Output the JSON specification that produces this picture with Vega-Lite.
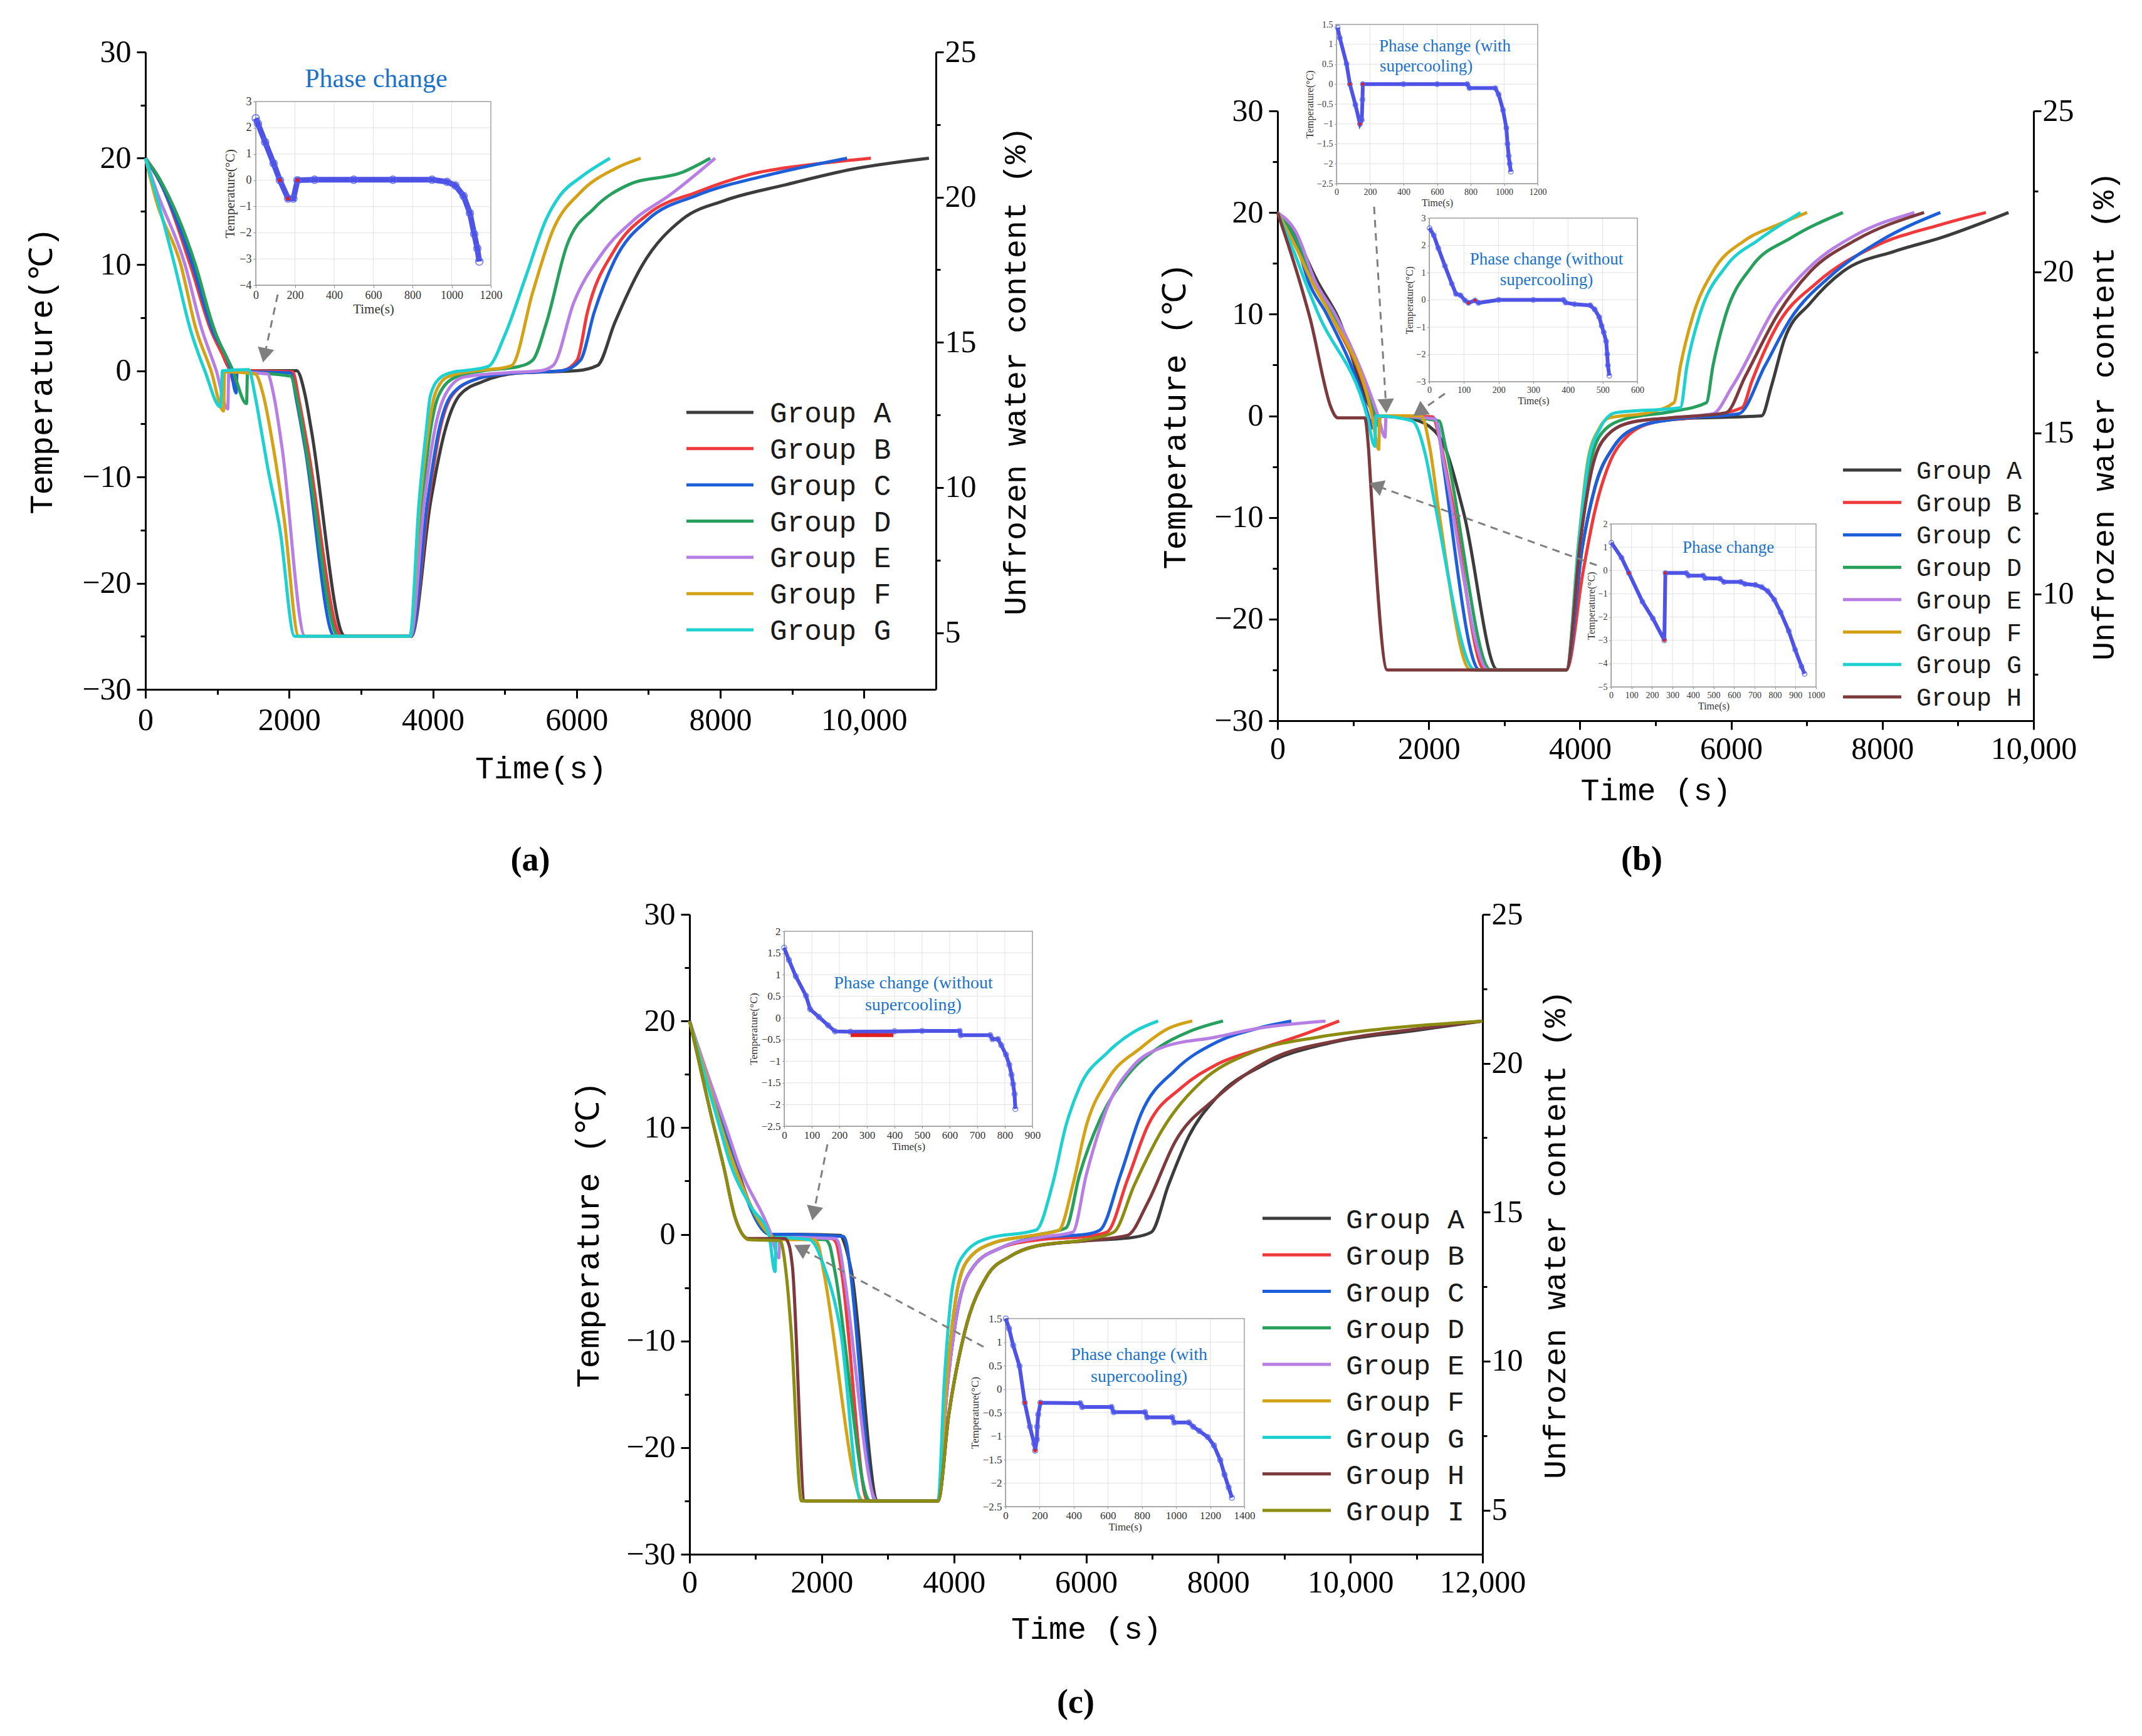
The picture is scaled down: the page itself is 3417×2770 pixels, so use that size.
{
"$schema":"https://vega.github.io/schema/vega-lite/v6.json",
"width":3417,"height":2770,"autosize":{"type":"none"},"padding":0,"background":"#ffffff",
"config":{"view":{"stroke":null},"axis":{"labelFlush":false,"labelOverlap":false,"grid":false,"titleFontWeight":"normal"}},
"datasets":{
"main":[
{"p":"a","g":"Group A","t":0,"v":20},{"p":"a","g":"Group A","t":200,"v":18},{"p":"a","g":"Group A","t":680,"v":10},{"p":"a","g":"Group A","t":950,"v":4},{"p":"a","g":"Group A","t":1218,"v":0},{"p":"a","g":"Group A","t":2105,"v":0},{"p":"a","g":"Group A","t":2222,"v":-2.3},{"p":"a","g":"Group A","t":2309,"v":-5.6},{"p":"a","g":"Group A","t":2774,"v":-25},{"p":"a","g":"Group A","t":3700,"v":-25},{"p":"a","g":"Group A","t":3967,"v":-12.4},{"p":"a","g":"Group A","t":4170,"v":-5.6},{"p":"a","g":"Group A","t":4374,"v":-2.3},{"p":"a","g":"Group A","t":4700,"v":-1},{"p":"a","g":"Group A","t":5200,"v":-0.2},{"p":"a","g":"Group A","t":6000,"v":0},{"p":"a","g":"Group A","t":6293,"v":0.5},{"p":"a","g":"Group A","t":6530,"v":4.5},{"p":"a","g":"Group A","t":6911,"v":9.9},{"p":"a","g":"Group A","t":7480,"v":14.3},{"p":"a","g":"Group A","t":8050,"v":16},{"p":"a","g":"Group A","t":8907,"v":17.5},{"p":"a","g":"Group A","t":9858,"v":19},{"p":"a","g":"Group A","t":10903,"v":20},
{"p":"a","g":"Group B","t":0,"v":20},{"p":"a","g":"Group B","t":200,"v":17.8},{"p":"a","g":"Group B","t":622,"v":10},{"p":"a","g":"Group B","t":900,"v":4},{"p":"a","g":"Group B","t":1175,"v":0},{"p":"a","g":"Group B","t":1239,"v":-1.2},{"p":"a","g":"Group B","t":1250,"v":0},{"p":"a","g":"Group B","t":2047,"v":-0.1},{"p":"a","g":"Group B","t":2140,"v":-2.9},{"p":"a","g":"Group B","t":2260,"v":-7.3},{"p":"a","g":"Group B","t":2731,"v":-25},{"p":"a","g":"Group B","t":3700,"v":-25},{"p":"a","g":"Group B","t":3937,"v":-12.4},{"p":"a","g":"Group B","t":4097,"v":-5.6},{"p":"a","g":"Group B","t":4270,"v":-2.3},{"p":"a","g":"Group B","t":4600,"v":-0.8},{"p":"a","g":"Group B","t":5000,"v":-0.3},{"p":"a","g":"Group B","t":5800,"v":0},{"p":"a","g":"Group B","t":6008,"v":1},{"p":"a","g":"Group B","t":6150,"v":5.5},{"p":"a","g":"Group B","t":6530,"v":11.4},{"p":"a","g":"Group B","t":7005,"v":14.8},{"p":"a","g":"Group B","t":7670,"v":16.8},{"p":"a","g":"Group B","t":8430,"v":18.5},{"p":"a","g":"Group B","t":9380,"v":19.5},{"p":"a","g":"Group B","t":10095,"v":20},
{"p":"a","g":"Group C","t":0,"v":20},{"p":"a","g":"Group C","t":200,"v":17.8},{"p":"a","g":"Group C","t":651,"v":10},{"p":"a","g":"Group C","t":920,"v":4},{"p":"a","g":"Group C","t":1189,"v":0},{"p":"a","g":"Group C","t":1262,"v":-2.1},{"p":"a","g":"Group C","t":1275,"v":-0.1},{"p":"a","g":"Group C","t":2018,"v":-0.2},{"p":"a","g":"Group C","t":2105,"v":-2.9},{"p":"a","g":"Group C","t":2222,"v":-7.3},{"p":"a","g":"Group C","t":2629,"v":-25},{"p":"a","g":"Group C","t":3700,"v":-25},{"p":"a","g":"Group C","t":3923,"v":-12.4},{"p":"a","g":"Group C","t":4083,"v":-5.6},{"p":"a","g":"Group C","t":4257,"v":-2.3},{"p":"a","g":"Group C","t":4600,"v":-0.8},{"p":"a","g":"Group C","t":5000,"v":-0.3},{"p":"a","g":"Group C","t":5800,"v":0},{"p":"a","g":"Group C","t":6055,"v":1},{"p":"a","g":"Group C","t":6245,"v":5.5},{"p":"a","g":"Group C","t":6530,"v":10.4},{"p":"a","g":"Group C","t":7005,"v":14.3},{"p":"a","g":"Group C","t":7670,"v":16.5},{"p":"a","g":"Group C","t":8717,"v":18.5},{"p":"a","g":"Group C","t":9763,"v":20},
{"p":"a","g":"Group D","t":0,"v":20},{"p":"a","g":"Group D","t":200,"v":18},{"p":"a","g":"Group D","t":695,"v":10},{"p":"a","g":"Group D","t":950,"v":4},{"p":"a","g":"Group D","t":1218,"v":0},{"p":"a","g":"Group D","t":1407,"v":-3.1},{"p":"a","g":"Group D","t":1420,"v":-0.2},{"p":"a","g":"Group D","t":2018,"v":-0.5},{"p":"a","g":"Group D","t":2120,"v":-3},{"p":"a","g":"Group D","t":2250,"v":-8},{"p":"a","g":"Group D","t":2687,"v":-25},{"p":"a","g":"Group D","t":3690,"v":-25},{"p":"a","g":"Group D","t":3850,"v":-12.4},{"p":"a","g":"Group D","t":3967,"v":-5.6},{"p":"a","g":"Group D","t":4083,"v":-2.3},{"p":"a","g":"Group D","t":4316,"v":-0.6},{"p":"a","g":"Group D","t":4700,"v":0},{"p":"a","g":"Group D","t":5200,"v":0.4},{"p":"a","g":"Group D","t":5390,"v":1},{"p":"a","g":"Group D","t":5580,"v":4.5},{"p":"a","g":"Group D","t":5865,"v":11.8},{"p":"a","g":"Group D","t":6245,"v":15.3},{"p":"a","g":"Group D","t":6720,"v":17.5},{"p":"a","g":"Group D","t":7480,"v":18.7},{"p":"a","g":"Group D","t":7860,"v":20},
{"p":"a","g":"Group E","t":0,"v":20},{"p":"a","g":"Group E","t":150,"v":17},{"p":"a","g":"Group E","t":550,"v":10},{"p":"a","g":"Group E","t":780,"v":4},{"p":"a","g":"Group E","t":986,"v":0},{"p":"a","g":"Group E","t":1146,"v":-3.6},{"p":"a","g":"Group E","t":1160,"v":-0.1},{"p":"a","g":"Group E","t":1698,"v":-0.3},{"p":"a","g":"Group E","t":1785,"v":-2.3},{"p":"a","g":"Group E","t":1902,"v":-7.3},{"p":"a","g":"Group E","t":2222,"v":-25},{"p":"a","g":"Group E","t":3690,"v":-25},{"p":"a","g":"Group E","t":3879,"v":-12.4},{"p":"a","g":"Group E","t":4025,"v":-5.6},{"p":"a","g":"Group E","t":4170,"v":-2.3},{"p":"a","g":"Group E","t":4432,"v":-0.6},{"p":"a","g":"Group E","t":5000,"v":-0.2},{"p":"a","g":"Group E","t":5500,"v":0},{"p":"a","g":"Group E","t":5675,"v":0.5},{"p":"a","g":"Group E","t":5960,"v":6.4},{"p":"a","g":"Group E","t":6340,"v":10.9},{"p":"a","g":"Group E","t":6815,"v":14.3},{"p":"a","g":"Group E","t":7290,"v":16.5},{"p":"a","g":"Group E","t":7928,"v":20},
{"p":"a","g":"Group F","t":0,"v":20},{"p":"a","g":"Group F","t":150,"v":16},{"p":"a","g":"Group F","t":491,"v":10},{"p":"a","g":"Group F","t":700,"v":4},{"p":"a","g":"Group F","t":913,"v":0},{"p":"a","g":"Group F","t":1088,"v":-3.8},{"p":"a","g":"Group F","t":1100,"v":-0.1},{"p":"a","g":"Group F","t":1524,"v":-0.3},{"p":"a","g":"Group F","t":1640,"v":-2.3},{"p":"a","g":"Group F","t":1756,"v":-6.3},{"p":"a","g":"Group F","t":1931,"v":-14},{"p":"a","g":"Group F","t":2134,"v":-25},{"p":"a","g":"Group F","t":3680,"v":-25},{"p":"a","g":"Group F","t":3821,"v":-12.4},{"p":"a","g":"Group F","t":3937,"v":-5.6},{"p":"a","g":"Group F","t":4025,"v":-2.3},{"p":"a","g":"Group F","t":4199,"v":-0.6},{"p":"a","g":"Group F","t":4600,"v":0},{"p":"a","g":"Group F","t":5000,"v":0.3},{"p":"a","g":"Group F","t":5100,"v":0.5},{"p":"a","g":"Group F","t":5390,"v":7.4},{"p":"a","g":"Group F","t":5675,"v":13.3},{"p":"a","g":"Group F","t":6055,"v":16.8},{"p":"a","g":"Group F","t":6530,"v":19},{"p":"a","g":"Group F","t":6892,"v":20},
{"p":"a","g":"Group G","t":0,"v":20},{"p":"a","g":"Group G","t":150,"v":16.5},{"p":"a","g":"Group G","t":404,"v":10},{"p":"a","g":"Group G","t":620,"v":4},{"p":"a","g":"Group G","t":826,"v":0},{"p":"a","g":"Group G","t":1044,"v":-3.4},{"p":"a","g":"Group G","t":1073,"v":0},{"p":"a","g":"Group G","t":1437,"v":0.1},{"p":"a","g":"Group G","t":1524,"v":-2.3},{"p":"a","g":"Group G","t":1611,"v":-5.6},{"p":"a","g":"Group G","t":1698,"v":-9},{"p":"a","g":"Group G","t":1873,"v":-15},{"p":"a","g":"Group G","t":2076,"v":-25},{"p":"a","g":"Group G","t":3680,"v":-25},{"p":"a","g":"Group G","t":3807,"v":-12.4},{"p":"a","g":"Group G","t":3908,"v":-5.6},{"p":"a","g":"Group G","t":3967,"v":-2.3},{"p":"a","g":"Group G","t":4112,"v":-0.6},{"p":"a","g":"Group G","t":4300,"v":-0.1},{"p":"a","g":"Group G","t":4432,"v":0},{"p":"a","g":"Group G","t":4770,"v":0.4},{"p":"a","g":"Group G","t":5010,"v":3.5},{"p":"a","g":"Group G","t":5295,"v":8.9},{"p":"a","g":"Group G","t":5580,"v":14.3},{"p":"a","g":"Group G","t":5770,"v":16.5},{"p":"a","g":"Group G","t":6055,"v":18.2},{"p":"a","g":"Group G","t":6464,"v":20},
{"p":"b","g":"Group A","t":0,"v":20},{"p":"b","g":"Group A","t":250,"v":17.5},{"p":"b","g":"Group A","t":530,"v":13.2},{"p":"b","g":"Group A","t":780,"v":10},{"p":"b","g":"Group A","t":1333,"v":0},{"p":"b","g":"Group A","t":1700,"v":-0.2},{"p":"b","g":"Group A","t":1869,"v":-0.5},{"p":"b","g":"Group A","t":2000,"v":-1},{"p":"b","g":"Group A","t":2196,"v":-2.8},{"p":"b","g":"Group A","t":2464,"v":-9.6},{"p":"b","g":"Group A","t":2911,"v":-25},{"p":"b","g":"Group A","t":3820,"v":-25},{"p":"b","g":"Group A","t":4030,"v":-13},{"p":"b","g":"Group A","t":4200,"v":-7},{"p":"b","g":"Group A","t":4450,"v":-3},{"p":"b","g":"Group A","t":4800,"v":-1},{"p":"b","g":"Group A","t":5300,"v":-0.3},{"p":"b","g":"Group A","t":6403,"v":0},{"p":"b","g":"Group A","t":6532,"v":2.9},{"p":"b","g":"Group A","t":6704,"v":7.5},{"p":"b","g":"Group A","t":7048,"v":11.1},{"p":"b","g":"Group A","t":7478,"v":14.2},{"p":"b","g":"Group A","t":8165,"v":16.2},{"p":"b","g":"Group A","t":8767,"v":17.5},{"p":"b","g":"Group A","t":9669,"v":20},
{"p":"b","g":"Group B","t":0,"v":20},{"p":"b","g":"Group B","t":250,"v":17},{"p":"b","g":"Group B","t":470,"v":13.2},{"p":"b","g":"Group B","t":700,"v":10},{"p":"b","g":"Group B","t":1260,"v":0},{"p":"b","g":"Group B","t":1280,"v":-0.6},{"p":"b","g":"Group B","t":1300,"v":0},{"p":"b","g":"Group B","t":2050,"v":-0.1},{"p":"b","g":"Group B","t":2150,"v":-2.5},{"p":"b","g":"Group B","t":2300,"v":-8},{"p":"b","g":"Group B","t":2740,"v":-25},{"p":"b","g":"Group B","t":3820,"v":-25},{"p":"b","g":"Group B","t":4042,"v":-15.3},{"p":"b","g":"Group B","t":4190,"v":-9.6},{"p":"b","g":"Group B","t":4399,"v":-4.5},{"p":"b","g":"Group B","t":4602,"v":-2.2},{"p":"b","g":"Group B","t":5000,"v":-0.6},{"p":"b","g":"Group B","t":5600,"v":-0.1},{"p":"b","g":"Group B","t":6145,"v":0.8},{"p":"b","g":"Group B","t":6274,"v":3.4},{"p":"b","g":"Group B","t":6618,"v":9},{"p":"b","g":"Group B","t":7134,"v":13.1},{"p":"b","g":"Group B","t":7907,"v":16.7},{"p":"b","g":"Group B","t":8767,"v":18.8},{"p":"b","g":"Group B","t":9369,"v":20},
{"p":"b","g":"Group C","t":0,"v":20},{"p":"b","g":"Group C","t":250,"v":17},{"p":"b","g":"Group C","t":410,"v":13.2},{"p":"b","g":"Group C","t":650,"v":10},{"p":"b","g":"Group C","t":1200,"v":0},{"p":"b","g":"Group C","t":1244,"v":-1.2},{"p":"b","g":"Group C","t":1260,"v":0},{"p":"b","g":"Group C","t":2080,"v":-0.3},{"p":"b","g":"Group C","t":2122,"v":-1.1},{"p":"b","g":"Group C","t":2196,"v":-5},{"p":"b","g":"Group C","t":2672,"v":-25},{"p":"b","g":"Group C","t":3820,"v":-25},{"p":"b","g":"Group C","t":4030,"v":-13},{"p":"b","g":"Group C","t":4200,"v":-7},{"p":"b","g":"Group C","t":4450,"v":-3},{"p":"b","g":"Group C","t":4800,"v":-1},{"p":"b","g":"Group C","t":5300,"v":-0.3},{"p":"b","g":"Group C","t":6100,"v":0.2},{"p":"b","g":"Group C","t":6446,"v":4.9},{"p":"b","g":"Group C","t":6790,"v":9.6},{"p":"b","g":"Group C","t":7306,"v":13.7},{"p":"b","g":"Group C","t":7993,"v":17.3},{"p":"b","g":"Group C","t":8767,"v":20},
{"p":"b","g":"Group D","t":0,"v":20},{"p":"b","g":"Group D","t":250,"v":17.3},{"p":"b","g":"Group D","t":480,"v":13.2},{"p":"b","g":"Group D","t":720,"v":10},{"p":"b","g":"Group D","t":1300,"v":0},{"p":"b","g":"Group D","t":1340,"v":-1},{"p":"b","g":"Group D","t":1360,"v":0},{"p":"b","g":"Group D","t":2137,"v":-0.5},{"p":"b","g":"Group D","t":2220,"v":-3},{"p":"b","g":"Group D","t":2821,"v":-25},{"p":"b","g":"Group D","t":3820,"v":-25},{"p":"b","g":"Group D","t":4000,"v":-12},{"p":"b","g":"Group D","t":4130,"v":-5},{"p":"b","g":"Group D","t":4300,"v":-1.6},{"p":"b","g":"Group D","t":4600,"v":-0.3},{"p":"b","g":"Group D","t":5200,"v":0.4},{"p":"b","g":"Group D","t":5673,"v":1.3},{"p":"b","g":"Group D","t":5759,"v":4.9},{"p":"b","g":"Group D","t":5931,"v":10},{"p":"b","g":"Group D","t":6274,"v":14.7},{"p":"b","g":"Group D","t":6790,"v":17.5},{"p":"b","g":"Group D","t":7478,"v":20},
{"p":"b","g":"Group E","t":0,"v":20},{"p":"b","g":"Group E","t":250,"v":18},{"p":"b","g":"Group E","t":500,"v":13.2},{"p":"b","g":"Group E","t":760,"v":10},{"p":"b","g":"Group E","t":1330,"v":0},{"p":"b","g":"Group E","t":1422,"v":-2.1},{"p":"b","g":"Group E","t":1435,"v":0},{"p":"b","g":"Group E","t":2077,"v":-0.3},{"p":"b","g":"Group E","t":2196,"v":-4.5},{"p":"b","g":"Group E","t":2791,"v":-25},{"p":"b","g":"Group E","t":3820,"v":-25},{"p":"b","g":"Group E","t":4010,"v":-12},{"p":"b","g":"Group E","t":4150,"v":-5.5},{"p":"b","g":"Group E","t":4350,"v":-2},{"p":"b","g":"Group E","t":4700,"v":-0.6},{"p":"b","g":"Group E","t":5200,"v":-0.2},{"p":"b","g":"Group E","t":5759,"v":0.2},{"p":"b","g":"Group E","t":6016,"v":2.9},{"p":"b","g":"Group E","t":6618,"v":11.1},{"p":"b","g":"Group E","t":7048,"v":14.7},{"p":"b","g":"Group E","t":7650,"v":17.8},{"p":"b","g":"Group E","t":8423,"v":20},
{"p":"b","g":"Group F","t":0,"v":20},{"p":"b","g":"Group F","t":250,"v":16.5},{"p":"b","g":"Group F","t":455,"v":13.2},{"p":"b","g":"Group F","t":700,"v":10},{"p":"b","g":"Group F","t":1250,"v":0},{"p":"b","g":"Group F","t":1339,"v":-3.3},{"p":"b","g":"Group F","t":1350,"v":0},{"p":"b","g":"Group F","t":1898,"v":0},{"p":"b","g":"Group F","t":2018,"v":-3.3},{"p":"b","g":"Group F","t":2137,"v":-9.6},{"p":"b","g":"Group F","t":2553,"v":-25},{"p":"b","g":"Group F","t":3820,"v":-25},{"p":"b","g":"Group F","t":3982,"v":-12.4},{"p":"b","g":"Group F","t":4102,"v":-4.5},{"p":"b","g":"Group F","t":4250,"v":-1.3},{"p":"b","g":"Group F","t":4383,"v":-0.2},{"p":"b","g":"Group F","t":4899,"v":0.3},{"p":"b","g":"Group F","t":5243,"v":1.3},{"p":"b","g":"Group F","t":5329,"v":4.9},{"p":"b","g":"Group F","t":5501,"v":10},{"p":"b","g":"Group F","t":5759,"v":14.2},{"p":"b","g":"Group F","t":6188,"v":17.3},{"p":"b","g":"Group F","t":6618,"v":18.8},{"p":"b","g":"Group F","t":7005,"v":20},
{"p":"b","g":"Group G","t":0,"v":20},{"p":"b","g":"Group G","t":250,"v":15.5},{"p":"b","g":"Group G","t":365,"v":13.2},{"p":"b","g":"Group G","t":540,"v":10},{"p":"b","g":"Group G","t":1184,"v":0},{"p":"b","g":"Group G","t":1288,"v":-3},{"p":"b","g":"Group G","t":1300,"v":0},{"p":"b","g":"Group G","t":1780,"v":-0.5},{"p":"b","g":"Group G","t":1958,"v":-3.9},{"p":"b","g":"Group G","t":2077,"v":-8.5},{"p":"b","g":"Group G","t":2613,"v":-25},{"p":"b","g":"Group G","t":3820,"v":-25},{"p":"b","g":"Group G","t":3990,"v":-12},{"p":"b","g":"Group G","t":4110,"v":-4.5},{"p":"b","g":"Group G","t":4260,"v":-1.3},{"p":"b","g":"Group G","t":4469,"v":0.3},{"p":"b","g":"Group G","t":5329,"v":0.8},{"p":"b","g":"Group G","t":5415,"v":4.9},{"p":"b","g":"Group G","t":5587,"v":10},{"p":"b","g":"Group G","t":5931,"v":14.7},{"p":"b","g":"Group G","t":6360,"v":17.3},{"p":"b","g":"Group G","t":6919,"v":20},
{"p":"b","g":"Group H","t":0,"v":20},{"p":"b","g":"Group H","t":321,"v":12.5},{"p":"b","g":"Group H","t":430,"v":9.6},{"p":"b","g":"Group H","t":708,"v":0.8},{"p":"b","g":"Group H","t":760,"v":0},{"p":"b","g":"Group H","t":800,"v":-0.2},{"p":"b","g":"Group H","t":1154,"v":-0.2},{"p":"b","g":"Group H","t":1199,"v":-2.8},{"p":"b","g":"Group H","t":1244,"v":-8.2},{"p":"b","g":"Group H","t":1452,"v":-25},{"p":"b","g":"Group H","t":3820,"v":-25},{"p":"b","g":"Group H","t":4010,"v":-12},{"p":"b","g":"Group H","t":4150,"v":-5.5},{"p":"b","g":"Group H","t":4350,"v":-2},{"p":"b","g":"Group H","t":4700,"v":-0.6},{"p":"b","g":"Group H","t":5200,"v":-0.2},{"p":"b","g":"Group H","t":5931,"v":0.3},{"p":"b","g":"Group H","t":6188,"v":3.9},{"p":"b","g":"Group H","t":6618,"v":10},{"p":"b","g":"Group H","t":7048,"v":14.2},{"p":"b","g":"Group H","t":7650,"v":17.3},{"p":"b","g":"Group H","t":8552,"v":20},
{"p":"c","g":"Group A","t":0,"v":20},{"p":"c","g":"Group A","t":245,"v":15.2},{"p":"c","g":"Group A","t":520,"v":10},{"p":"c","g":"Group A","t":1220,"v":0},{"p":"c","g":"Group A","t":1500,"v":0},{"p":"c","g":"Group A","t":2289,"v":-0.1},{"p":"c","g":"Group A","t":2330,"v":-0.6},{"p":"c","g":"Group A","t":2450,"v":-3.5},{"p":"c","g":"Group A","t":2850,"v":-25},{"p":"c","g":"Group A","t":3760,"v":-25},{"p":"c","g":"Group A","t":3923,"v":-16.9},{"p":"c","g":"Group A","t":4162,"v":-9.2},{"p":"c","g":"Group A","t":4502,"v":-3.9},{"p":"c","g":"Group A","t":4842,"v":-2.1},{"p":"c","g":"Group A","t":5244,"v":-1.1},{"p":"c","g":"Group A","t":6000,"v":-0.6},{"p":"c","g":"Group A","t":6700,"v":-0.3},{"p":"c","g":"Group A","t":6988,"v":0.2},{"p":"c","g":"Group A","t":7246,"v":4.6},{"p":"c","g":"Group A","t":7556,"v":9.2},{"p":"c","g":"Group A","t":7970,"v":12.8},{"p":"c","g":"Group A","t":8693,"v":15.9},{"p":"c","g":"Group A","t":9727,"v":18},{"p":"c","g":"Group A","t":10968,"v":19.1},{"p":"c","g":"Group A","t":12000,"v":20},
{"p":"c","g":"Group B","t":0,"v":20},{"p":"c","g":"Group B","t":245,"v":15.2},{"p":"c","g":"Group B","t":500,"v":10},{"p":"c","g":"Group B","t":1210,"v":0},{"p":"c","g":"Group B","t":1350,"v":-0.3},{"p":"c","g":"Group B","t":2150,"v":-0.4},{"p":"c","g":"Group B","t":2220,"v":-0.8},{"p":"c","g":"Group B","t":2300,"v":-3.5},{"p":"c","g":"Group B","t":2697,"v":-25},{"p":"c","g":"Group B","t":3760,"v":-25},{"p":"c","g":"Group B","t":3890,"v":-15},{"p":"c","g":"Group B","t":4060,"v":-7},{"p":"c","g":"Group B","t":4300,"v":-3},{"p":"c","g":"Group B","t":4700,"v":-1.3},{"p":"c","g":"Group B","t":5300,"v":-0.5},{"p":"c","g":"Group B","t":6000,"v":-0.2},{"p":"c","g":"Group B","t":6316,"v":0.2},{"p":"c","g":"Group B","t":6626,"v":5.1},{"p":"c","g":"Group B","t":6936,"v":10.2},{"p":"c","g":"Group B","t":7453,"v":13.8},{"p":"c","g":"Group B","t":7970,"v":15.9},{"p":"c","g":"Group B","t":8693,"v":17.5},{"p":"c","g":"Group B","t":9314,"v":18.8},{"p":"c","g":"Group B","t":9831,"v":20},
{"p":"c","g":"Group C","t":0,"v":20},{"p":"c","g":"Group C","t":245,"v":15.2},{"p":"c","g":"Group C","t":510,"v":10},{"p":"c","g":"Group C","t":1215,"v":0},{"p":"c","g":"Group C","t":1400,"v":0},{"p":"c","g":"Group C","t":2330,"v":-0.2},{"p":"c","g":"Group C","t":2380,"v":-1},{"p":"c","g":"Group C","t":2425,"v":-3},{"p":"c","g":"Group C","t":2816,"v":-25},{"p":"c","g":"Group C","t":3760,"v":-25},{"p":"c","g":"Group C","t":3890,"v":-15},{"p":"c","g":"Group C","t":4060,"v":-7},{"p":"c","g":"Group C","t":4300,"v":-3},{"p":"c","g":"Group C","t":4700,"v":-1.3},{"p":"c","g":"Group C","t":5300,"v":-0.3},{"p":"c","g":"Group C","t":6000,"v":0},{"p":"c","g":"Group C","t":6213,"v":0.4},{"p":"c","g":"Group C","t":6523,"v":5.6},{"p":"c","g":"Group C","t":6833,"v":11.3},{"p":"c","g":"Group C","t":7350,"v":15.4},{"p":"c","g":"Group C","t":7970,"v":18},{"p":"c","g":"Group C","t":8590,"v":19.3},{"p":"c","g":"Group C","t":9107,"v":20},
{"p":"c","g":"Group D","t":0,"v":20},{"p":"c","g":"Group D","t":245,"v":15.2},{"p":"c","g":"Group D","t":490,"v":10},{"p":"c","g":"Group D","t":1210,"v":0},{"p":"c","g":"Group D","t":1350,"v":-0.4},{"p":"c","g":"Group D","t":2050,"v":-0.5},{"p":"c","g":"Group D","t":2118,"v":-1},{"p":"c","g":"Group D","t":2200,"v":-3.5},{"p":"c","g":"Group D","t":2731,"v":-25},{"p":"c","g":"Group D","t":3760,"v":-25},{"p":"c","g":"Group D","t":3880,"v":-14.5},{"p":"c","g":"Group D","t":4030,"v":-6},{"p":"c","g":"Group D","t":4200,"v":-2.5},{"p":"c","g":"Group D","t":4600,"v":-0.8},{"p":"c","g":"Group D","t":5300,"v":0},{"p":"c","g":"Group D","t":5696,"v":0.6},{"p":"c","g":"Group D","t":5902,"v":5.6},{"p":"c","g":"Group D","t":6213,"v":10.8},{"p":"c","g":"Group D","t":6626,"v":14.9},{"p":"c","g":"Group D","t":7143,"v":17.7},{"p":"c","g":"Group D","t":7556,"v":19},{"p":"c","g":"Group D","t":8073,"v":20},
{"p":"c","g":"Group E","t":0,"v":20},{"p":"c","g":"Group E","t":245,"v":15.5},{"p":"c","g":"Group E","t":555,"v":10},{"p":"c","g":"Group E","t":756,"v":6.3},{"p":"c","g":"Group E","t":1233,"v":0},{"p":"c","g":"Group E","t":1352,"v":-2.2},{"p":"c","g":"Group E","t":1365,"v":-0.3},{"p":"c","g":"Group E","t":2200,"v":-0.4},{"p":"c","g":"Group E","t":2254,"v":-0.8},{"p":"c","g":"Group E","t":2330,"v":-3.5},{"p":"c","g":"Group E","t":2833,"v":-25},{"p":"c","g":"Group E","t":3760,"v":-25},{"p":"c","g":"Group E","t":3890,"v":-15},{"p":"c","g":"Group E","t":4060,"v":-7},{"p":"c","g":"Group E","t":4300,"v":-3},{"p":"c","g":"Group E","t":4700,"v":-1.3},{"p":"c","g":"Group E","t":5300,"v":-0.3},{"p":"c","g":"Group E","t":5799,"v":0.2},{"p":"c","g":"Group E","t":6005,"v":5.6},{"p":"c","g":"Group E","t":6316,"v":11.8},{"p":"c","g":"Group E","t":6729,"v":15.9},{"p":"c","g":"Group E","t":7143,"v":17.5},{"p":"c","g":"Group E","t":7970,"v":18.5},{"p":"c","g":"Group E","t":8590,"v":19.3},{"p":"c","g":"Group E","t":9624,"v":20},
{"p":"c","g":"Group F","t":0,"v":20},{"p":"c","g":"Group F","t":245,"v":15},{"p":"c","g":"Group F","t":480,"v":10},{"p":"c","g":"Group F","t":1205,"v":0},{"p":"c","g":"Group F","t":1300,"v":-0.5},{"p":"c","g":"Group F","t":1880,"v":-0.5},{"p":"c","g":"Group F","t":1948,"v":-1},{"p":"c","g":"Group F","t":2030,"v":-3.5},{"p":"c","g":"Group F","t":2629,"v":-25},{"p":"c","g":"Group F","t":3760,"v":-25},{"p":"c","g":"Group F","t":3880,"v":-14.5},{"p":"c","g":"Group F","t":4030,"v":-6},{"p":"c","g":"Group F","t":4200,"v":-2.5},{"p":"c","g":"Group F","t":4600,"v":-0.8},{"p":"c","g":"Group F","t":5300,"v":0},{"p":"c","g":"Group F","t":5592,"v":0.4},{"p":"c","g":"Group F","t":5799,"v":4.6},{"p":"c","g":"Group F","t":6005,"v":10.2},{"p":"c","g":"Group F","t":6316,"v":14.4},{"p":"c","g":"Group F","t":6833,"v":17.5},{"p":"c","g":"Group F","t":7246,"v":19.3},{"p":"c","g":"Group F","t":7608,"v":20},
{"p":"c","g":"Group G","t":0,"v":20},{"p":"c","g":"Group G","t":143,"v":16.8},{"p":"c","g":"Group G","t":458,"v":10},{"p":"c","g":"Group G","t":586,"v":7.2},{"p":"c","g":"Group G","t":927,"v":2.6},{"p":"c","g":"Group G","t":1199,"v":0},{"p":"c","g":"Group G","t":1294,"v":-3.5},{"p":"c","g":"Group G","t":1310,"v":-0.3},{"p":"c","g":"Group G","t":1812,"v":-0.5},{"p":"c","g":"Group G","t":1900,"v":-1},{"p":"c","g":"Group G","t":2016,"v":-2.7},{"p":"c","g":"Group G","t":2289,"v":-9.2},{"p":"c","g":"Group G","t":2595,"v":-25},{"p":"c","g":"Group G","t":3760,"v":-25},{"p":"c","g":"Group G","t":3855,"v":-13.8},{"p":"c","g":"Group G","t":3991,"v":-4.5},{"p":"c","g":"Group G","t":4162,"v":-1.8},{"p":"c","g":"Group G","t":4502,"v":-0.4},{"p":"c","g":"Group G","t":5244,"v":0.4},{"p":"c","g":"Group G","t":5489,"v":4.6},{"p":"c","g":"Group G","t":5696,"v":10.2},{"p":"c","g":"Group G","t":5902,"v":13.8},{"p":"c","g":"Group G","t":6316,"v":17},{"p":"c","g":"Group G","t":6729,"v":19},{"p":"c","g":"Group G","t":7091,"v":20},
{"p":"c","g":"Group H","t":0,"v":20},{"p":"c","g":"Group H","t":109,"v":17.1},{"p":"c","g":"Group H","t":314,"v":11.5},{"p":"c","g":"Group H","t":518,"v":6.3},{"p":"c","g":"Group H","t":688,"v":1.6},{"p":"c","g":"Group H","t":790,"v":0.1},{"p":"c","g":"Group H","t":892,"v":-0.4},{"p":"c","g":"Group H","t":1440,"v":-0.4},{"p":"c","g":"Group H","t":1505,"v":-1},{"p":"c","g":"Group H","t":1556,"v":-3},{"p":"c","g":"Group H","t":1744,"v":-25},{"p":"c","g":"Group H","t":3760,"v":-25},{"p":"c","g":"Group H","t":3923,"v":-16.9},{"p":"c","g":"Group H","t":4162,"v":-9.2},{"p":"c","g":"Group H","t":4502,"v":-3.9},{"p":"c","g":"Group H","t":4842,"v":-2.1},{"p":"c","g":"Group H","t":5244,"v":-1.1},{"p":"c","g":"Group H","t":6000,"v":-0.6},{"p":"c","g":"Group H","t":6626,"v":-0.1},{"p":"c","g":"Group H","t":6936,"v":3},{"p":"c","g":"Group H","t":7350,"v":8.7},{"p":"c","g":"Group H","t":7970,"v":12.8},{"p":"c","g":"Group H","t":8797,"v":16.4},{"p":"c","g":"Group H","t":9831,"v":18.2},{"p":"c","g":"Group H","t":11071,"v":19.3},{"p":"c","g":"Group H","t":12000,"v":20},
{"p":"c","g":"Group I","t":0,"v":20},{"p":"c","g":"Group I","t":109,"v":17.1},{"p":"c","g":"Group I","t":314,"v":11.5},{"p":"c","g":"Group I","t":518,"v":6.3},{"p":"c","g":"Group I","t":688,"v":1.6},{"p":"c","g":"Group I","t":790,"v":0.1},{"p":"c","g":"Group I","t":892,"v":-0.5},{"p":"c","g":"Group I","t":1369,"v":-0.6},{"p":"c","g":"Group I","t":1471,"v":-4.2},{"p":"c","g":"Group I","t":1539,"v":-9.2},{"p":"c","g":"Group I","t":1693,"v":-25},{"p":"c","g":"Group I","t":3760,"v":-25},{"p":"c","g":"Group I","t":3923,"v":-16.9},{"p":"c","g":"Group I","t":4162,"v":-9.2},{"p":"c","g":"Group I","t":4502,"v":-3.9},{"p":"c","g":"Group I","t":4842,"v":-2.1},{"p":"c","g":"Group I","t":5244,"v":-1.1},{"p":"c","g":"Group I","t":6000,"v":-0.5},{"p":"c","g":"Group I","t":6419,"v":0.2},{"p":"c","g":"Group I","t":6729,"v":4.6},{"p":"c","g":"Group I","t":7143,"v":9.7},{"p":"c","g":"Group I","t":7763,"v":14.4},{"p":"c","g":"Group I","t":8487,"v":17},{"p":"c","g":"Group I","t":9521,"v":18.5},{"p":"c","g":"Group I","t":10554,"v":19.3},{"p":"c","g":"Group I","t":12000,"v":20}
],
"groups":[
{"p":"a","g":"Group A"},{"p":"a","g":"Group B"},{"p":"a","g":"Group C"},{"p":"a","g":"Group D"},{"p":"a","g":"Group E"},{"p":"a","g":"Group F"},{"p":"a","g":"Group G"},
{"p":"b","g":"Group A"},{"p":"b","g":"Group B"},{"p":"b","g":"Group C"},{"p":"b","g":"Group D"},{"p":"b","g":"Group E"},{"p":"b","g":"Group F"},{"p":"b","g":"Group G"},{"p":"b","g":"Group H"},
{"p":"c","g":"Group A"},{"p":"c","g":"Group B"},{"p":"c","g":"Group C"},{"p":"c","g":"Group D"},{"p":"c","g":"Group E"},{"p":"c","g":"Group F"},{"p":"c","g":"Group G"},{"p":"c","g":"Group H"},{"p":"c","g":"Group I"}
],
"ins":[
{"id":"a1","t":0,"v":2.36},{"id":"a1","t":11,"v":2.16},{"id":"a1","t":48,"v":1.45},{"id":"a1","t":91,"v":0.64},{"id":"a1","t":123,"v":0},{"id":"a1","t":165,"v":-0.7},{"id":"a1","t":192,"v":-0.7},{"id":"a1","t":213,"v":0},{"id":"a1","t":300,"v":0.02},{"id":"a1","t":500,"v":0.02},{"id":"a1","t":700,"v":0.02},{"id":"a1","t":900,"v":0.02},{"id":"a1","t":976,"v":-0.06},{"id":"a1","t":1019,"v":-0.2},{"id":"a1","t":1061,"v":-0.6},{"id":"a1","t":1093,"v":-1.25},{"id":"a1","t":1115,"v":-2.05},{"id":"a1","t":1131,"v":-2.6},{"id":"a1","t":1141,"v":-3.1},
{"id":"b1","t":7,"v":1.42},{"id":"b1","t":20,"v":1.16},{"id":"b1","t":60,"v":0.51},{"id":"b1","t":80,"v":0},{"id":"b1","t":113,"v":-0.52},{"id":"b1","t":140,"v":-1},{"id":"b1","t":151,"v":-0.9},{"id":"b1","t":155,"v":-0.39},{"id":"b1","t":157,"v":0},{"id":"b1","t":400,"v":0},{"id":"b1","t":600,"v":0},{"id":"b1","t":780,"v":0},{"id":"b1","t":793,"v":-0.1},{"id":"b1","t":947,"v":-0.1},{"id":"b1","t":967,"v":-0.26},{"id":"b1","t":993,"v":-0.65},{"id":"b1","t":1013,"v":-1.1},{"id":"b1","t":1020,"v":-1.5},{"id":"b1","t":1027,"v":-1.8},{"id":"b1","t":1033,"v":-2},{"id":"b1","t":1040,"v":-2.2},
{"id":"b2","t":1,"v":2.63},{"id":"b2","t":13,"v":2.37},{"id":"b2","t":26,"v":1.9},{"id":"b2","t":45,"v":1.25},{"id":"b2","t":65,"v":0.59},{"id":"b2","t":77,"v":0.22},{"id":"b2","t":90,"v":0.17},{"id":"b2","t":103,"v":-0.02},{"id":"b2","t":113,"v":-0.11},{"id":"b2","t":132,"v":-0.02},{"id":"b2","t":142,"v":-0.11},{"id":"b2","t":200,"v":0},{"id":"b2","t":300,"v":0},{"id":"b2","t":387,"v":0},{"id":"b2","t":393,"v":-0.1},{"id":"b2","t":419,"v":-0.16},{"id":"b2","t":464,"v":-0.2},{"id":"b2","t":477,"v":-0.35},{"id":"b2","t":490,"v":-0.63},{"id":"b2","t":497,"v":-0.95},{"id":"b2","t":503,"v":-1.19},{"id":"b2","t":510,"v":-1.52},{"id":"b2","t":513,"v":-1.99},{"id":"b2","t":515,"v":-2.4},{"id":"b2","t":519,"v":-2.78},
{"id":"b3","t":2,"v":1.19},{"id":"b3","t":51,"v":0.55},{"id":"b3","t":87,"v":-0.11},{"id":"b3","t":153,"v":-1.34},{"id":"b3","t":204,"v":-2.06},{"id":"b3","t":260,"v":-3},{"id":"b3","t":265,"v":-0.11},{"id":"b3","t":367,"v":-0.11},{"id":"b3","t":378,"v":-0.22},{"id":"b3","t":449,"v":-0.22},{"id":"b3","t":459,"v":-0.33},{"id":"b3","t":531,"v":-0.35},{"id":"b3","t":551,"v":-0.49},{"id":"b3","t":633,"v":-0.49},{"id":"b3","t":653,"v":-0.58},{"id":"b3","t":704,"v":-0.62},{"id":"b3","t":735,"v":-0.71},{"id":"b3","t":765,"v":-0.89},{"id":"b3","t":796,"v":-1.25},{"id":"b3","t":827,"v":-1.79},{"id":"b3","t":867,"v":-2.6},{"id":"b3","t":898,"v":-3.4},{"id":"b3","t":929,"v":-4.12},{"id":"b3","t":944,"v":-4.44},
{"id":"c1","t":0,"v":1.62},{"id":"c1","t":17,"v":1.34},{"id":"c1","t":42,"v":0.96},{"id":"c1","t":79,"v":0.51},{"id":"c1","t":94,"v":0.2},{"id":"c1","t":126,"v":0.02},{"id":"c1","t":159,"v":-0.17},{"id":"c1","t":184,"v":-0.31},{"id":"c1","t":240,"v":-0.32},{"id":"c1","t":400,"v":-0.31},{"id":"c1","t":500,"v":-0.3},{"id":"c1","t":636,"v":-0.3},{"id":"c1","t":640,"v":-0.4},{"id":"c1","t":747,"v":-0.4},{"id":"c1","t":755,"v":-0.49},{"id":"c1","t":775,"v":-0.49},{"id":"c1","t":787,"v":-0.63},{"id":"c1","t":804,"v":-0.85},{"id":"c1","t":816,"v":-1.08},{"id":"c1","t":824,"v":-1.31},{"id":"c1","t":830,"v":-1.53},{"id":"c1","t":835,"v":-1.76},{"id":"c1","t":838,"v":-2.1},
{"id":"c2","t":2,"v":1.5},{"id":"c2","t":21,"v":1.29},{"id":"c2","t":45,"v":0.93},{"id":"c2","t":82,"v":0.49},{"id":"c2","t":113,"v":-0.29},{"id":"c2","t":143,"v":-0.8},{"id":"c2","t":168,"v":-1.16},{"id":"c2","t":174,"v":-1.31},{"id":"c2","t":184,"v":-1.07},{"id":"c2","t":186,"v":-0.8},{"id":"c2","t":192,"v":-0.54},{"id":"c2","t":205,"v":-0.29},{"id":"c2","t":438,"v":-0.3},{"id":"c2","t":450,"v":-0.38},{"id":"c2","t":621,"v":-0.38},{"id":"c2","t":634,"v":-0.49},{"id":"c2","t":818,"v":-0.49},{"id":"c2","t":830,"v":-0.6},{"id":"c2","t":977,"v":-0.6},{"id":"c2","t":989,"v":-0.71},{"id":"c2","t":1075,"v":-0.71},{"id":"c2","t":1100,"v":-0.8},{"id":"c2","t":1136,"v":-0.89},{"id":"c2","t":1186,"v":-1.02},{"id":"c2","t":1222,"v":-1.2},{"id":"c2","t":1259,"v":-1.51},{"id":"c2","t":1284,"v":-1.82},{"id":"c2","t":1308,"v":-2.09},{"id":"c2","t":1327,"v":-2.31}
],
"red":[
{"id":"a1","t":123,"v":0},{"id":"a1","t":165,"v":-0.7},{"id":"a1","t":213,"v":0},
{"id":"b1","t":80,"v":0},{"id":"b1","t":140,"v":-1},{"id":"b1","t":157,"v":0},
{"id":"b2","t":113,"v":-0.11},{"id":"b2","t":132,"v":-0.02},
{"id":"b3","t":87,"v":-0.11},{"id":"b3","t":260,"v":-3},{"id":"b3","t":265,"v":-0.11},
{"id":"c1","t":241,"v":-0.4},{"id":"c1","t":320,"v":-0.4},{"id":"c1","t":396,"v":-0.4},
{"id":"c2","t":113,"v":-0.29},{"id":"c2","t":174,"v":-1.31},{"id":"c2","t":205,"v":-0.29}
],
"igrid":[
{"id":"a1","o":"x","val":200},{"id":"a1","o":"x","val":400},{"id":"a1","o":"x","val":600},{"id":"a1","o":"x","val":800},{"id":"a1","o":"x","val":1000},
{"id":"a1","o":"y","val":-3},{"id":"a1","o":"y","val":-2},{"id":"a1","o":"y","val":-1},{"id":"a1","o":"y","val":0},{"id":"a1","o":"y","val":1},{"id":"a1","o":"y","val":2},
{"id":"b1","o":"x","val":200},{"id":"b1","o":"x","val":400},{"id":"b1","o":"x","val":600},{"id":"b1","o":"x","val":800},{"id":"b1","o":"x","val":1000},
{"id":"b1","o":"y","val":-2},{"id":"b1","o":"y","val":-1.5},{"id":"b1","o":"y","val":-1},{"id":"b1","o":"y","val":-0.5},{"id":"b1","o":"y","val":0},{"id":"b1","o":"y","val":0.5},{"id":"b1","o":"y","val":1},
{"id":"b2","o":"x","val":100},{"id":"b2","o":"x","val":200},{"id":"b2","o":"x","val":300},{"id":"b2","o":"x","val":400},{"id":"b2","o":"x","val":500},
{"id":"b2","o":"y","val":-2},{"id":"b2","o":"y","val":-1},{"id":"b2","o":"y","val":0},{"id":"b2","o":"y","val":1},{"id":"b2","o":"y","val":2},
{"id":"b3","o":"x","val":100},{"id":"b3","o":"x","val":200},{"id":"b3","o":"x","val":300},{"id":"b3","o":"x","val":400},{"id":"b3","o":"x","val":500},{"id":"b3","o":"x","val":600},{"id":"b3","o":"x","val":700},{"id":"b3","o":"x","val":800},{"id":"b3","o":"x","val":900},
{"id":"b3","o":"y","val":-4},{"id":"b3","o":"y","val":-3},{"id":"b3","o":"y","val":-2},{"id":"b3","o":"y","val":-1},{"id":"b3","o":"y","val":0},{"id":"b3","o":"y","val":1},
{"id":"c1","o":"x","val":100},{"id":"c1","o":"x","val":200},{"id":"c1","o":"x","val":300},{"id":"c1","o":"x","val":400},{"id":"c1","o":"x","val":500},{"id":"c1","o":"x","val":600},{"id":"c1","o":"x","val":700},{"id":"c1","o":"x","val":800},
{"id":"c1","o":"y","val":-2},{"id":"c1","o":"y","val":-1.5},{"id":"c1","o":"y","val":-1},{"id":"c1","o":"y","val":-0.5},{"id":"c1","o":"y","val":0},{"id":"c1","o":"y","val":0.5},{"id":"c1","o":"y","val":1},{"id":"c1","o":"y","val":1.5},
{"id":"c2","o":"x","val":200},{"id":"c2","o":"x","val":400},{"id":"c2","o":"x","val":600},{"id":"c2","o":"x","val":800},{"id":"c2","o":"x","val":1000},{"id":"c2","o":"x","val":1200},
{"id":"c2","o":"y","val":-2},{"id":"c2","o":"y","val":-1.5},{"id":"c2","o":"y","val":-1},{"id":"c2","o":"y","val":-0.5},{"id":"c2","o":"y","val":0},{"id":"c2","o":"y","val":0.5},{"id":"c2","o":"y","val":1}
],
"arrows":[
{"id":"a","t":1841,"v":7.17,"t2":1657,"v2":1.45,"dir":12},
{"id":"b","t":1277,"v":20.57,"t2":1435,"v2":0.96,"dir":-3},
{"id":"b","t":2214,"v":2.19,"t2":1874,"v2":0.4,"dir":55},
{"id":"b","t":4221,"v":-14.7,"t2":1302,"v2":-6.87,"dir":110},
{"id":"c","t":2087,"v":8.43,"t2":1878,"v2":1.97,"dir":11},
{"id":"c","t":4449,"v":-10.55,"t2":1679,"v2":-1.32,"dir":118}
],
"frames":[
{"id":"a1","x0":0,"x1":1200,"y0":-4,"y1":3},
{"id":"b1","x0":0,"x1":1200,"y0":-2.5,"y1":1.5},
{"id":"b2","x0":0,"x1":600,"y0":-3,"y1":3},
{"id":"b3","x0":0,"x1":1000,"y0":-5,"y1":2},
{"id":"c1","x0":0,"x1":900,"y0":-2.5,"y1":2},
{"id":"c2","x0":0,"x1":1400,"y0":-2.5,"y1":1.5}
],
"notes":[
{"id":"a","t":5356,"v":-46.1,"txt":"(a)"},{"id":"b","t":4818,"v":-43.7,"txt":"(b)"},{"id":"c","t":5843,"v":-43.9,"txt":"(c)"},
{"id":"a1","t":614,"v":3.55,"txt":"Phase change"},
{"id":"b1","t":647,"v":0.83,"txt":"Phase change (with"},{"id":"b1","t":535,"v":0.32,"txt":"supercooling)"},
{"id":"b2","t":338,"v":1.31,"txt":"Phase change (without"},{"id":"b2","t":338,"v":0.53,"txt":"supercooling)"},
{"id":"b3","t":572,"v":0.775,"txt":"Phase change"},
{"id":"c1","t":468,"v":0.683,"txt":"Phase change (without"},{"id":"c1","t":468,"v":0.176,"txt":"supercooling)"},
{"id":"c2","t":783,"v":0.62,"txt":"Phase change (with"},{"id":"c2","t":783,"v":0.153,"txt":"supercooling)"}
]
},
"resolve":{"scale":{"x":"independent","y":"independent","color":"independent"},"axis":{"x":"independent","y":"independent"},"legend":{"color":"independent"}},
"layer":[
{"data":{"name":"main"},"transform":[{"filter":"datum.p==='a'"}],"mark":{"type":"line","strokeWidth":5,"interpolate":"monotone"},
 "encoding":{
  "x":{"field":"t","type":"quantitative","scale":{"domain":[0,11000],"range":[232,1493],"nice":false,"zero":false},
   "axis":{"orient":"bottom","offset":-1670,"values":[0,2000,4000,6000,8000,10000],"labelExpr":"datum.value >= 10000 ? format(datum.value, ',') : format(datum.value, 'd')","title":"Time(s)","domainColor":"#000","domainWidth":3,"tickColor":"#000","tickWidth":3,"tickSize":14,"labelFont":"Liberation Serif","labelFontSize":50,"labelColor":"#000","labelPadding":10,"titleFont":"Liberation Mono","titleFontSize":50,"titleColor":"#000","titlePadding":27}},
  "y":{"field":"v","type":"quantitative","scale":{"domain":[-30,30],"range":[1100,83],"nice":false,"zero":false},
   "axis":{"orient":"left","offset":-232,"values":[-30,-20,-10,0,10,20,30],"format":"d","title":"Temperature(℃)","domainColor":"#000","domainWidth":3,"tickColor":"#000","tickWidth":3,"tickSize":14,"labelFont":"Liberation Serif","labelFontSize":50,"labelColor":"#000","labelPadding":9,"titleFont":"Liberation Mono","titleFontSize":52,"titleColor":"#000","titlePadding":37}},
  "color":{"field":"g","type":"nominal","scale":{"domain":["Group A","Group B","Group C","Group D","Group E","Group F","Group G"],"range":["#3c3c3c","#f0393a","#1d5fd8","#26a05c","#b77fe3","#d4a216","#1fd0d0"]},"legend":null}}},
{"data":{"name":"groups"},"transform":[{"filter":"datum.p==='a'"}],"mark":{"type":"rule","strokeWidth":5},
 "encoding":{"y":{"field":"g","type":"nominal","scale":{"type":"point","domain":["Group A","Group B","Group C","Group D","Group E","Group F","Group G"],"range":[658,1005],"padding":0},"axis":null},
  "x":{"datum":0,"type":"quantitative","scale":{"domain":[0,1],"range":[1095,1202]},"axis":null},"x2":{"datum":1},
  "color":{"field":"g","type":"nominal","scale":{"domain":["Group A","Group B","Group C","Group D","Group E","Group F","Group G"],"range":["#3c3c3c","#f0393a","#1d5fd8","#26a05c","#b77fe3","#d4a216","#1fd0d0"]},"legend":null}}},
{"data":{"name":"groups"},"transform":[{"filter":"datum.p==='a'"}],"mark":{"type":"text","align":"left","baseline":"middle","font":"Liberation Mono","fontSize":46,"color":"#1a1a1a"},
 "encoding":{"y":{"field":"g","type":"nominal","scale":{"type":"point","domain":["Group A","Group B","Group C","Group D","Group E","Group F","Group G"],"range":[660,1007],"padding":0},"axis":null},
  "x":{"datum":0,"type":"quantitative","scale":{"domain":[0,1],"range":[1228,1300]},"axis":null},"text":{"field":"g"}}},
{"data":{"values":[{}]},"mark":{"type":"point","opacity":0},"encoding":{"x":{"datum":1000,"type":"quantitative","scale":{"domain":[0,11000],"range":[232,1493],"nice":false,"zero":false},"axis":{"orient":"bottom","offset":-1670,"values":[1000,3000,5000,7000,9000],"labels":false,"domain":false,"tickColor":"#000","tickWidth":3,"tickSize":8,"title":null}}}},
{"data":{"values":[{}]},"mark":{"type":"point","opacity":0},"encoding":{"y":{"datum":5,"type":"quantitative","scale":{"domain":[-30,30],"range":[1100,83],"nice":false,"zero":false},"axis":{"orient":"left","offset":-232,"values":[-25,-15,-5,5,15,25],"labels":false,"domain":false,"tickColor":"#000","tickWidth":3,"tickSize":8,"title":null}}}},
{"data":{"values":[{}]},"mark":{"type":"point","opacity":0},
 "encoding":{"y":{"datum":25,"type":"quantitative","scale":{"domain":[3.05,25],"range":[1100,83],"nice":false,"zero":false},
  "axis":{"orient":"right","offset":-1924,"values":[5,10,15,20,25],"format":"d","title":"Unfrozen water content (%)","titleAngle":270,"titleBaseline":"top","domainColor":"#000","domainWidth":3,"tickColor":"#000","tickWidth":3,"tickSize":12,"labelFont":"Liberation Serif","labelFontSize":50,"labelColor":"#000","labelPadding":2,"titleFont":"Liberation Mono","titleFontSize":50,"titleColor":"#000","titlePadding":38}}}},
{"data":{"values":[{}]},"mark":{"type":"point","opacity":0},"encoding":{"y":{"datum":5,"type":"quantitative","scale":{"domain":[3.05,25],"range":[1100,83],"nice":false,"zero":false},"axis":{"orient":"right","offset":-1924,"values":[7.5,12.5,17.5,22.5],"labels":false,"domain":false,"tickColor":"#000","tickWidth":3,"tickSize":7,"title":null}}}},
{"data":{"name":"arrows"},"transform":[{"filter":"datum.id==='a'"}],"mark":{"type":"rule","color":"#7f7f7f","strokeWidth":3,"strokeDash":[12,9]},
 "encoding":{"x":{"field":"t","type":"quantitative","scale":{"domain":[0,11000],"range":[232,1493],"nice":false,"zero":false},"axis":null},"y":{"field":"v","type":"quantitative","scale":{"domain":[-30,30],"range":[1100,83],"nice":false,"zero":false},"axis":null},"x2":{"field":"t2"},"y2":{"field":"v2"}}},
{"data":{"name":"arrows"},"transform":[{"filter":"datum.id==='a'"}],"mark":{"type":"point","shape":"triangle-down","filled":true,"opacity":1,"color":"#7f7f7f","size":700},
 "encoding":{"x":{"field":"t2","type":"quantitative","scale":{"domain":[0,11000],"range":[232,1493],"nice":false,"zero":false},"axis":null},"y":{"field":"v2","type":"quantitative","scale":{"domain":[-30,30],"range":[1100,83],"nice":false,"zero":false},"axis":null},"angle":{"field":"dir","type":"quantitative","scale":null}}},
{"data":{"name":"notes"},"transform":[{"filter":"datum.id==='a'"}],"mark":{"type":"text","font":"Liberation Serif","fontSize":54,"fontWeight":"bold","color":"#000","baseline":"middle"},
 "encoding":{"x":{"field":"t","type":"quantitative","scale":{"domain":[0,11000],"range":[232,1493],"nice":false,"zero":false},"axis":null},"y":{"field":"v","type":"quantitative","scale":{"domain":[-30,30],"range":[1100,83],"nice":false,"zero":false},"axis":null},"text":{"field":"txt"}}},

{"data":{"name":"igrid"},"transform":[{"filter":"datum.id==='a1' && datum.o==='x'"}],"mark":{"type":"rule","color":"#e2e2e2","strokeWidth":1},
 "encoding":{"x":{"field":"val","type":"quantitative","scale":{"domain":[0,1200],"range":[408,783],"nice":false,"zero":false},"axis":null},"y":{"datum":-4,"type":"quantitative","scale":{"domain":[-4,3],"range":[455,162],"nice":false,"zero":false},"axis":null},"y2":{"datum":3}}},
{"data":{"name":"igrid"},"transform":[{"filter":"datum.id==='a1' && datum.o==='y'"}],"mark":{"type":"rule","color":"#e2e2e2","strokeWidth":1},
 "encoding":{"y":{"field":"val","type":"quantitative","scale":{"domain":[-4,3],"range":[455,162],"nice":false,"zero":false},"axis":null},"x":{"datum":0,"type":"quantitative","scale":{"domain":[0,1200],"range":[408,783],"nice":false,"zero":false},"axis":null},"x2":{"datum":1200}}},
{"data":{"name":"frames"},"transform":[{"filter":"datum.id==='a1'"}],"mark":{"type":"rect","fill":"transparent","stroke":"#a0a0a0","strokeWidth":1.5},
 "encoding":{"x":{"field":"x0","type":"quantitative","scale":{"domain":[0,1200],"range":[408,783],"nice":false,"zero":false},
   "axis":{"orient":"bottom","offset":-2315,"values":[0,200,400,600,800,1000,1200],"format":"d","title":"Time(s)","domainColor":"#8a8a8a","tickColor":"#8a8a8a","tickSize":4,"labelFont":"Liberation Serif","labelFontSize":18,"labelColor":"#333","labelPadding":3,"titleFont":"Liberation Serif","titleFontSize":21,"titleColor":"#333","titlePadding":2}},
  "x2":{"field":"x1"},
  "y":{"field":"y0","type":"quantitative","scale":{"domain":[-4,3],"range":[455,162],"nice":false,"zero":false},
   "axis":{"orient":"left","offset":-408,"values":[-4,-3,-2,-1,0,1,2,3],"format":"~g","title":"Temperature(°C)","domainColor":"#8a8a8a","tickColor":"#8a8a8a","tickSize":4,"labelFont":"Liberation Serif","labelFontSize":18,"labelColor":"#333","labelPadding":3,"titleFont":"Liberation Serif","titleFontSize":21,"titleColor":"#333","titlePadding":4}},
  "y2":{"field":"y1"}}},
{"data":{"name":"ins"},"transform":[{"filter":"datum.id==='a1'"}],"mark":{"type":"line","color":"#2f34e0","strokeWidth":9,"opacity":0.85},
 "encoding":{"x":{"field":"t","type":"quantitative","scale":{"domain":[0,1200],"range":[408,783],"nice":false,"zero":false},"axis":null},"y":{"field":"v","type":"quantitative","scale":{"domain":[-4,3],"range":[455,162],"nice":false,"zero":false},"axis":null}}},
{"data":{"name":"ins"},"transform":[{"filter":"datum.id==='a1'"}],"mark":{"type":"point","filled":false,"color":"#5565f2","size":140,"strokeWidth":1.5,"opacity":0.9},
 "encoding":{"x":{"field":"t","type":"quantitative","scale":{"domain":[0,1200],"range":[408,783],"nice":false,"zero":false},"axis":null},"y":{"field":"v","type":"quantitative","scale":{"domain":[-4,3],"range":[455,162],"nice":false,"zero":false},"axis":null}}},
{"data":{"name":"red"},"transform":[{"filter":"datum.id==='a1'"}],"mark":{"type":"point","filled":true,"color":"#e0201e","size":40,"opacity":1},
 "encoding":{"x":{"field":"t","type":"quantitative","scale":{"domain":[0,1200],"range":[408,783],"nice":false,"zero":false},"axis":null},"y":{"field":"v","type":"quantitative","scale":{"domain":[-4,3],"range":[455,162],"nice":false,"zero":false},"axis":null}}},
{"data":{"name":"notes"},"transform":[{"filter":"datum.id==='a1'"}],"mark":{"type":"text","font":"Liberation Serif","fontSize":42,"color":"#1b72c8","baseline":"alphabetic"},
 "encoding":{"x":{"field":"t","type":"quantitative","scale":{"domain":[0,1200],"range":[408,783],"nice":false,"zero":false},"axis":null},"y":{"field":"v","type":"quantitative","scale":{"domain":[-4,3],"range":[455,162],"nice":false,"zero":false},"axis":null},"text":{"field":"txt"}}},

{"data":{"name":"main"},"transform":[{"filter":"datum.p==='b'"}],"mark":{"type":"line","strokeWidth":5,"interpolate":"monotone"},
 "encoding":{
  "x":{"field":"t","type":"quantitative","scale":{"domain":[0,10000],"range":[2038,3244],"nice":false,"zero":false},
   "axis":{"orient":"bottom","offset":-1620,"values":[0,2000,4000,6000,8000,10000],"labelExpr":"datum.value >= 10000 ? format(datum.value, ',') : format(datum.value, 'd')","title":"Time (s)","domainColor":"#000","domainWidth":3,"tickColor":"#000","tickWidth":3,"tickSize":14,"labelFont":"Liberation Serif","labelFontSize":50,"labelColor":"#000","labelPadding":6,"titleFont":"Liberation Mono","titleFontSize":50,"titleColor":"#000","titlePadding":16}},
  "y":{"field":"v","type":"quantitative","scale":{"domain":[-30,30],"range":[1150,177],"nice":false,"zero":false},
   "axis":{"orient":"left","offset":-2038,"values":[-30,-20,-10,0,10,20,30],"format":"d","title":"Temperature (℃)","domainColor":"#000","domainWidth":3,"tickColor":"#000","tickWidth":3,"tickSize":14,"labelFont":"Liberation Serif","labelFontSize":50,"labelColor":"#000","labelPadding":9,"titleFont":"Liberation Mono","titleFontSize":52,"titleColor":"#000","titlePadding":35}},
  "color":{"field":"g","type":"nominal","scale":{"domain":["Group A","Group B","Group C","Group D","Group E","Group F","Group G","Group H"],"range":["#3c3c3c","#f0393a","#1d5fd8","#26a05c","#b77fe3","#d4a216","#1fd0d0","#7d3a3c"]},"legend":null}}},
{"data":{"name":"groups"},"transform":[{"filter":"datum.p==='b'"}],"mark":{"type":"rule","strokeWidth":5},
 "encoding":{"y":{"field":"g","type":"nominal","scale":{"type":"point","domain":["Group A","Group B","Group C","Group D","Group E","Group F","Group G","Group H"],"range":[750,1112],"padding":0},"axis":null},
  "x":{"datum":0,"type":"quantitative","scale":{"domain":[0,1],"range":[2940,3033]},"axis":null},"x2":{"datum":1},
  "color":{"field":"g","type":"nominal","scale":{"domain":["Group A","Group B","Group C","Group D","Group E","Group F","Group G","Group H"],"range":["#3c3c3c","#f0393a","#1d5fd8","#26a05c","#b77fe3","#d4a216","#1fd0d0","#7d3a3c"]},"legend":null}}},
{"data":{"name":"groups"},"transform":[{"filter":"datum.p==='b'"}],"mark":{"type":"text","align":"left","baseline":"middle","font":"Liberation Mono","fontSize":40,"color":"#1a1a1a"},
 "encoding":{"y":{"field":"g","type":"nominal","scale":{"type":"point","domain":["Group A","Group B","Group C","Group D","Group E","Group F","Group G","Group H"],"range":[752,1114],"padding":0},"axis":null},
  "x":{"datum":0,"type":"quantitative","scale":{"domain":[0,1],"range":[3057,3100]},"axis":null},"text":{"field":"g"}}},
{"data":{"values":[{}]},"mark":{"type":"point","opacity":0},"encoding":{"x":{"datum":1000,"type":"quantitative","scale":{"domain":[0,10000],"range":[2038,3244],"nice":false,"zero":false},"axis":{"orient":"bottom","offset":-1620,"values":[1000,3000,5000,7000,9000],"labels":false,"domain":false,"tickColor":"#000","tickWidth":3,"tickSize":8,"title":null}}}},
{"data":{"values":[{}]},"mark":{"type":"point","opacity":0},"encoding":{"y":{"datum":5,"type":"quantitative","scale":{"domain":[-30,30],"range":[1150,177],"nice":false,"zero":false},"axis":{"orient":"left","offset":-2038,"values":[-25,-15,-5,5,15,25],"labels":false,"domain":false,"tickColor":"#000","tickWidth":3,"tickSize":8,"title":null}}}},
{"data":{"values":[{}]},"mark":{"type":"point","opacity":0},
 "encoding":{"y":{"datum":25,"type":"quantitative","scale":{"domain":[6.06,25],"range":[1150,177],"nice":false,"zero":false},
  "axis":{"orient":"right","offset":-173,"values":[10,15,20,25],"format":"d","title":"Unfrozen water content (%)","titleAngle":270,"titleBaseline":"top","domainColor":"#000","domainWidth":3,"tickColor":"#000","tickWidth":3,"tickSize":12,"labelFont":"Liberation Serif","labelFontSize":50,"labelColor":"#000","labelPadding":2,"titleFont":"Liberation Mono","titleFontSize":50,"titleColor":"#000","titlePadding":23}}}},
{"data":{"values":[{}]},"mark":{"type":"point","opacity":0},"encoding":{"y":{"datum":10,"type":"quantitative","scale":{"domain":[6.06,25],"range":[1150,177],"nice":false,"zero":false},"axis":{"orient":"right","offset":-173,"values":[7.5,12.5,17.5,22.5],"labels":false,"domain":false,"tickColor":"#000","tickWidth":3,"tickSize":7,"title":null}}}},
{"data":{"name":"arrows"},"transform":[{"filter":"datum.id==='b'"}],"mark":{"type":"rule","color":"#7f7f7f","strokeWidth":3,"strokeDash":[12,9]},
 "encoding":{"x":{"field":"t","type":"quantitative","scale":{"domain":[0,10000],"range":[2038,3244],"nice":false,"zero":false},"axis":null},"y":{"field":"v","type":"quantitative","scale":{"domain":[-30,30],"range":[1150,177],"nice":false,"zero":false},"axis":null},"x2":{"field":"t2"},"y2":{"field":"v2"}}},
{"data":{"name":"arrows"},"transform":[{"filter":"datum.id==='b'"}],"mark":{"type":"point","shape":"triangle-down","filled":true,"opacity":1,"color":"#7f7f7f","size":700},
 "encoding":{"x":{"field":"t2","type":"quantitative","scale":{"domain":[0,10000],"range":[2038,3244],"nice":false,"zero":false},"axis":null},"y":{"field":"v2","type":"quantitative","scale":{"domain":[-30,30],"range":[1150,177],"nice":false,"zero":false},"axis":null},"angle":{"field":"dir","type":"quantitative","scale":null}}},
{"data":{"name":"notes"},"transform":[{"filter":"datum.id==='b'"}],"mark":{"type":"text","font":"Liberation Serif","fontSize":54,"fontWeight":"bold","color":"#000","baseline":"middle"},
 "encoding":{"x":{"field":"t","type":"quantitative","scale":{"domain":[0,10000],"range":[2038,3244],"nice":false,"zero":false},"axis":null},"y":{"field":"v","type":"quantitative","scale":{"domain":[-30,30],"range":[1150,177],"nice":false,"zero":false},"axis":null},"text":{"field":"txt"}}},

{"data":{"name":"igrid"},"transform":[{"filter":"datum.id==='b1' && datum.o==='x'"}],"mark":{"type":"rule","color":"#e2e2e2","strokeWidth":1},
 "encoding":{"x":{"field":"val","type":"quantitative","scale":{"domain":[0,1200],"range":[2132,2453],"nice":false,"zero":false},"axis":null},"y":{"datum":-2.5,"type":"quantitative","scale":{"domain":[-2.5,1.5],"range":[293,39],"nice":false,"zero":false},"axis":null},"y2":{"datum":1.5}}},
{"data":{"name":"igrid"},"transform":[{"filter":"datum.id==='b1' && datum.o==='y'"}],"mark":{"type":"rule","color":"#e2e2e2","strokeWidth":1},
 "encoding":{"y":{"field":"val","type":"quantitative","scale":{"domain":[-2.5,1.5],"range":[293,39],"nice":false,"zero":false},"axis":null},"x":{"datum":0,"type":"quantitative","scale":{"domain":[0,1200],"range":[2132,2453],"nice":false,"zero":false},"axis":null},"x2":{"datum":1200}}},
{"data":{"name":"frames"},"transform":[{"filter":"datum.id==='b1'"}],"mark":{"type":"rect","fill":"transparent","stroke":"#a0a0a0","strokeWidth":1.5},
 "encoding":{"x":{"field":"x0","type":"quantitative","scale":{"domain":[0,1200],"range":[2132,2453],"nice":false,"zero":false},
   "axis":{"orient":"bottom","offset":-2477,"values":[0,200,400,600,800,1000,1200],"format":"d","title":"Time(s)","domainColor":"#8a8a8a","tickColor":"#8a8a8a","tickSize":3,"labelFont":"Liberation Serif","labelFontSize":14,"labelColor":"#333","labelPadding":3,"titleFont":"Liberation Serif","titleFontSize":16,"titleColor":"#333","titlePadding":2}},
  "x2":{"field":"x1"},
  "y":{"field":"y0","type":"quantitative","scale":{"domain":[-2.5,1.5],"range":[293,39],"nice":false,"zero":false},
   "axis":{"orient":"left","offset":-2132,"values":[-2.5,-2,-1.5,-1,-0.5,0,0.5,1,1.5],"format":"~g","title":"Temperature(°C)","domainColor":"#8a8a8a","tickColor":"#8a8a8a","tickSize":3,"labelFont":"Liberation Serif","labelFontSize":14,"labelColor":"#333","labelPadding":3,"titleFont":"Liberation Serif","titleFontSize":16,"titleColor":"#333","titlePadding":3}},
  "y2":{"field":"y1"}}},
{"data":{"name":"ins"},"transform":[{"filter":"datum.id==='b1'"}],"mark":{"type":"line","color":"#2f34e0","strokeWidth":6,"opacity":0.85},
 "encoding":{"x":{"field":"t","type":"quantitative","scale":{"domain":[0,1200],"range":[2132,2453],"nice":false,"zero":false},"axis":null},"y":{"field":"v","type":"quantitative","scale":{"domain":[-2.5,1.5],"range":[293,39],"nice":false,"zero":false},"axis":null}}},
{"data":{"name":"ins"},"transform":[{"filter":"datum.id==='b1'"}],"mark":{"type":"point","filled":false,"color":"#5565f2","size":60,"strokeWidth":1.2,"opacity":0.9},
 "encoding":{"x":{"field":"t","type":"quantitative","scale":{"domain":[0,1200],"range":[2132,2453],"nice":false,"zero":false},"axis":null},"y":{"field":"v","type":"quantitative","scale":{"domain":[-2.5,1.5],"range":[293,39],"nice":false,"zero":false},"axis":null}}},
{"data":{"name":"red"},"transform":[{"filter":"datum.id==='b1'"}],"mark":{"type":"point","filled":true,"color":"#e0201e","size":25,"opacity":1},
 "encoding":{"x":{"field":"t","type":"quantitative","scale":{"domain":[0,1200],"range":[2132,2453],"nice":false,"zero":false},"axis":null},"y":{"field":"v","type":"quantitative","scale":{"domain":[-2.5,1.5],"range":[293,39],"nice":false,"zero":false},"axis":null}}},
{"data":{"name":"notes"},"transform":[{"filter":"datum.id==='b1'"}],"mark":{"type":"text","font":"Liberation Serif","fontSize":27,"color":"#1b72c8","baseline":"alphabetic"},
 "encoding":{"x":{"field":"t","type":"quantitative","scale":{"domain":[0,1200],"range":[2132,2453],"nice":false,"zero":false},"axis":null},"y":{"field":"v","type":"quantitative","scale":{"domain":[-2.5,1.5],"range":[293,39],"nice":false,"zero":false},"axis":null},"text":{"field":"txt"}}},

{"data":{"name":"igrid"},"transform":[{"filter":"datum.id==='b2' && datum.o==='x'"}],"mark":{"type":"rule","color":"#e2e2e2","strokeWidth":1},
 "encoding":{"x":{"field":"val","type":"quantitative","scale":{"domain":[0,600],"range":[2280,2612],"nice":false,"zero":false},"axis":null},"y":{"datum":-3,"type":"quantitative","scale":{"domain":[-3,3],"range":[609,348],"nice":false,"zero":false},"axis":null},"y2":{"datum":3}}},
{"data":{"name":"igrid"},"transform":[{"filter":"datum.id==='b2' && datum.o==='y'"}],"mark":{"type":"rule","color":"#e2e2e2","strokeWidth":1},
 "encoding":{"y":{"field":"val","type":"quantitative","scale":{"domain":[-3,3],"range":[609,348],"nice":false,"zero":false},"axis":null},"x":{"datum":0,"type":"quantitative","scale":{"domain":[0,600],"range":[2280,2612],"nice":false,"zero":false},"axis":null},"x2":{"datum":600}}},
{"data":{"name":"frames"},"transform":[{"filter":"datum.id==='b2'"}],"mark":{"type":"rect","fill":"transparent","stroke":"#a0a0a0","strokeWidth":1.5},
 "encoding":{"x":{"field":"x0","type":"quantitative","scale":{"domain":[0,600],"range":[2280,2612],"nice":false,"zero":false},
   "axis":{"orient":"bottom","offset":-2161,"values":[0,100,200,300,400,500,600],"format":"d","title":"Time(s)","domainColor":"#8a8a8a","tickColor":"#8a8a8a","tickSize":3,"labelFont":"Liberation Serif","labelFontSize":14,"labelColor":"#333","labelPadding":3,"titleFont":"Liberation Serif","titleFontSize":16,"titleColor":"#333","titlePadding":2}},
  "x2":{"field":"x1"},
  "y":{"field":"y0","type":"quantitative","scale":{"domain":[-3,3],"range":[609,348],"nice":false,"zero":false},
   "axis":{"orient":"left","offset":-2280,"values":[-3,-2,-1,0,1,2,3],"format":"~g","title":"Temperature(°C)","domainColor":"#8a8a8a","tickColor":"#8a8a8a","tickSize":3,"labelFont":"Liberation Serif","labelFontSize":14,"labelColor":"#333","labelPadding":3,"titleFont":"Liberation Serif","titleFontSize":16,"titleColor":"#333","titlePadding":3}},
  "y2":{"field":"y1"}}},
{"data":{"name":"ins"},"transform":[{"filter":"datum.id==='b2'"}],"mark":{"type":"line","color":"#2f34e0","strokeWidth":6,"opacity":0.85},
 "encoding":{"x":{"field":"t","type":"quantitative","scale":{"domain":[0,600],"range":[2280,2612],"nice":false,"zero":false},"axis":null},"y":{"field":"v","type":"quantitative","scale":{"domain":[-3,3],"range":[609,348],"nice":false,"zero":false},"axis":null}}},
{"data":{"name":"ins"},"transform":[{"filter":"datum.id==='b2'"}],"mark":{"type":"point","filled":false,"color":"#5565f2","size":60,"strokeWidth":1.2,"opacity":0.9},
 "encoding":{"x":{"field":"t","type":"quantitative","scale":{"domain":[0,600],"range":[2280,2612],"nice":false,"zero":false},"axis":null},"y":{"field":"v","type":"quantitative","scale":{"domain":[-3,3],"range":[609,348],"nice":false,"zero":false},"axis":null}}},
{"data":{"name":"red"},"transform":[{"filter":"datum.id==='b2'"}],"mark":{"type":"point","filled":true,"color":"#e0201e","size":25,"opacity":1},
 "encoding":{"x":{"field":"t","type":"quantitative","scale":{"domain":[0,600],"range":[2280,2612],"nice":false,"zero":false},"axis":null},"y":{"field":"v","type":"quantitative","scale":{"domain":[-3,3],"range":[609,348],"nice":false,"zero":false},"axis":null}}},
{"data":{"name":"notes"},"transform":[{"filter":"datum.id==='b2'"}],"mark":{"type":"text","font":"Liberation Serif","fontSize":27,"color":"#1b72c8","baseline":"alphabetic"},
 "encoding":{"x":{"field":"t","type":"quantitative","scale":{"domain":[0,600],"range":[2280,2612],"nice":false,"zero":false},"axis":null},"y":{"field":"v","type":"quantitative","scale":{"domain":[-3,3],"range":[609,348],"nice":false,"zero":false},"axis":null},"text":{"field":"txt"}}},

{"data":{"name":"igrid"},"transform":[{"filter":"datum.id==='b3' && datum.o==='x'"}],"mark":{"type":"rule","color":"#e2e2e2","strokeWidth":1},
 "encoding":{"x":{"field":"val","type":"quantitative","scale":{"domain":[0,1000],"range":[2570,2897],"nice":false,"zero":false},"axis":null},"y":{"datum":-5,"type":"quantitative","scale":{"domain":[-5,2],"range":[1096,836],"nice":false,"zero":false},"axis":null},"y2":{"datum":2}}},
{"data":{"name":"igrid"},"transform":[{"filter":"datum.id==='b3' && datum.o==='y'"}],"mark":{"type":"rule","color":"#e2e2e2","strokeWidth":1},
 "encoding":{"y":{"field":"val","type":"quantitative","scale":{"domain":[-5,2],"range":[1096,836],"nice":false,"zero":false},"axis":null},"x":{"datum":0,"type":"quantitative","scale":{"domain":[0,1000],"range":[2570,2897],"nice":false,"zero":false},"axis":null},"x2":{"datum":1000}}},
{"data":{"name":"frames"},"transform":[{"filter":"datum.id==='b3'"}],"mark":{"type":"rect","fill":"transparent","stroke":"#a0a0a0","strokeWidth":1.5},
 "encoding":{"x":{"field":"x0","type":"quantitative","scale":{"domain":[0,1000],"range":[2570,2897],"nice":false,"zero":false},
   "axis":{"orient":"bottom","offset":-1674,"values":[0,100,200,300,400,500,600,700,800,900,1000],"format":"d","title":"Time(s)","domainColor":"#8a8a8a","tickColor":"#8a8a8a","tickSize":3,"labelFont":"Liberation Serif","labelFontSize":14,"labelColor":"#333","labelPadding":3,"titleFont":"Liberation Serif","titleFontSize":16,"titleColor":"#333","titlePadding":2}},
  "x2":{"field":"x1"},
  "y":{"field":"y0","type":"quantitative","scale":{"domain":[-5,2],"range":[1096,836],"nice":false,"zero":false},
   "axis":{"orient":"left","offset":-2570,"values":[-5,-4,-3,-2,-1,0,1,2],"format":"~g","title":"Temperature(°C)","domainColor":"#8a8a8a","tickColor":"#8a8a8a","tickSize":3,"labelFont":"Liberation Serif","labelFontSize":14,"labelColor":"#333","labelPadding":3,"titleFont":"Liberation Serif","titleFontSize":16,"titleColor":"#333","titlePadding":3}},
  "y2":{"field":"y1"}}},
{"data":{"name":"ins"},"transform":[{"filter":"datum.id==='b3'"}],"mark":{"type":"line","color":"#2f34e0","strokeWidth":6,"opacity":0.85},
 "encoding":{"x":{"field":"t","type":"quantitative","scale":{"domain":[0,1000],"range":[2570,2897],"nice":false,"zero":false},"axis":null},"y":{"field":"v","type":"quantitative","scale":{"domain":[-5,2],"range":[1096,836],"nice":false,"zero":false},"axis":null}}},
{"data":{"name":"ins"},"transform":[{"filter":"datum.id==='b3'"}],"mark":{"type":"point","filled":false,"color":"#5565f2","size":60,"strokeWidth":1.2,"opacity":0.9},
 "encoding":{"x":{"field":"t","type":"quantitative","scale":{"domain":[0,1000],"range":[2570,2897],"nice":false,"zero":false},"axis":null},"y":{"field":"v","type":"quantitative","scale":{"domain":[-5,2],"range":[1096,836],"nice":false,"zero":false},"axis":null}}},
{"data":{"name":"red"},"transform":[{"filter":"datum.id==='b3'"}],"mark":{"type":"point","filled":true,"color":"#e0201e","size":25,"opacity":1},
 "encoding":{"x":{"field":"t","type":"quantitative","scale":{"domain":[0,1000],"range":[2570,2897],"nice":false,"zero":false},"axis":null},"y":{"field":"v","type":"quantitative","scale":{"domain":[-5,2],"range":[1096,836],"nice":false,"zero":false},"axis":null}}},
{"data":{"name":"notes"},"transform":[{"filter":"datum.id==='b3'"}],"mark":{"type":"text","font":"Liberation Serif","fontSize":27,"color":"#1b72c8","baseline":"alphabetic"},
 "encoding":{"x":{"field":"t","type":"quantitative","scale":{"domain":[0,1000],"range":[2570,2897],"nice":false,"zero":false},"axis":null},"y":{"field":"v","type":"quantitative","scale":{"domain":[-5,2],"range":[1096,836],"nice":false,"zero":false},"axis":null},"text":{"field":"txt"}}},

{"data":{"name":"main"},"transform":[{"filter":"datum.p==='c'"}],"mark":{"type":"line","strokeWidth":5,"interpolate":"monotone"},
 "encoding":{
  "x":{"field":"t","type":"quantitative","scale":{"domain":[0,12000],"range":[1100,2365],"nice":false,"zero":false},
   "axis":{"orient":"bottom","offset":-290,"values":[0,2000,4000,6000,8000,10000,12000],"labelExpr":"datum.value >= 10000 ? format(datum.value, ',') : format(datum.value, 'd')","title":"Time (s)","domainColor":"#000","domainWidth":3,"tickColor":"#000","tickWidth":3,"tickSize":14,"labelFont":"Liberation Serif","labelFontSize":50,"labelColor":"#000","labelPadding":6,"titleFont":"Liberation Mono","titleFontSize":50,"titleColor":"#000","titlePadding":24}},
  "y":{"field":"v","type":"quantitative","scale":{"domain":[-30,30],"range":[2480,1459],"nice":false,"zero":false},
   "axis":{"orient":"left","offset":-1100,"values":[-30,-20,-10,0,10,20,30],"format":"d","title":"Temperature (℃)","domainColor":"#000","domainWidth":3,"tickColor":"#000","tickWidth":3,"tickSize":14,"labelFont":"Liberation Serif","labelFontSize":50,"labelColor":"#000","labelPadding":9,"titleFont":"Liberation Mono","titleFontSize":52,"titleColor":"#000","titlePadding":33}},
  "color":{"field":"g","type":"nominal","scale":{"domain":["Group A","Group B","Group C","Group D","Group E","Group F","Group G","Group H","Group I"],"range":["#3c3c3c","#f0393a","#1d5fd8","#26a05c","#b77fe3","#d4a216","#1fd0d0","#7d3a3c","#8c8c12"]},"legend":null}}},
{"data":{"name":"groups"},"transform":[{"filter":"datum.p==='c'"}],"mark":{"type":"rule","strokeWidth":5},
 "encoding":{"y":{"field":"g","type":"nominal","scale":{"type":"point","domain":["Group A","Group B","Group C","Group D","Group E","Group F","Group G","Group H","Group I"],"range":[1944,2410],"padding":0},"axis":null},
  "x":{"datum":0,"type":"quantitative","scale":{"domain":[0,1],"range":[2014,2123]},"axis":null},"x2":{"datum":1},
  "color":{"field":"g","type":"nominal","scale":{"domain":["Group A","Group B","Group C","Group D","Group E","Group F","Group G","Group H","Group I"],"range":["#3c3c3c","#f0393a","#1d5fd8","#26a05c","#b77fe3","#d4a216","#1fd0d0","#7d3a3c","#8c8c12"]},"legend":null}}},
{"data":{"name":"groups"},"transform":[{"filter":"datum.p==='c'"}],"mark":{"type":"text","align":"left","baseline":"middle","font":"Liberation Mono","fontSize":45,"color":"#1a1a1a"},
 "encoding":{"y":{"field":"g","type":"nominal","scale":{"type":"point","domain":["Group A","Group B","Group C","Group D","Group E","Group F","Group G","Group H","Group I"],"range":[1946,2412],"padding":0},"axis":null},
  "x":{"datum":0,"type":"quantitative","scale":{"domain":[0,1],"range":[2147,2200]},"axis":null},"text":{"field":"g"}}},
{"data":{"values":[{}]},"mark":{"type":"point","opacity":0},"encoding":{"x":{"datum":1000,"type":"quantitative","scale":{"domain":[0,12000],"range":[1100,2365],"nice":false,"zero":false},"axis":{"orient":"bottom","offset":-290,"values":[1000,3000,5000,7000,9000,11000],"labels":false,"domain":false,"tickColor":"#000","tickWidth":3,"tickSize":8,"title":null}}}},
{"data":{"values":[{}]},"mark":{"type":"point","opacity":0},"encoding":{"y":{"datum":5,"type":"quantitative","scale":{"domain":[-30,30],"range":[2480,1459],"nice":false,"zero":false},"axis":{"orient":"left","offset":-1100,"values":[-25,-15,-5,5,15,25],"labels":false,"domain":false,"tickColor":"#000","tickWidth":3,"tickSize":8,"title":null}}}},
{"data":{"values":[{}]},"mark":{"type":"point","opacity":0},
 "encoding":{"y":{"datum":25,"type":"quantitative","scale":{"domain":[3.52,25],"range":[2480,1459],"nice":false,"zero":false},
  "axis":{"orient":"right","offset":-1052,"values":[5,10,15,20,25],"format":"d","title":"Unfrozen water content (%)","titleAngle":270,"titleBaseline":"top","domainColor":"#000","domainWidth":3,"tickColor":"#000","tickWidth":3,"tickSize":12,"labelFont":"Liberation Serif","labelFontSize":50,"labelColor":"#000","labelPadding":2,"titleFont":"Liberation Mono","titleFontSize":50,"titleColor":"#000","titlePadding":27}}}},
{"data":{"values":[{}]},"mark":{"type":"point","opacity":0},"encoding":{"y":{"datum":10,"type":"quantitative","scale":{"domain":[3.52,25],"range":[2480,1459],"nice":false,"zero":false},"axis":{"orient":"right","offset":-1052,"values":[7.5,12.5,17.5,22.5],"labels":false,"domain":false,"tickColor":"#000","tickWidth":3,"tickSize":7,"title":null}}}},
{"data":{"name":"arrows"},"transform":[{"filter":"datum.id==='c'"}],"mark":{"type":"rule","color":"#7f7f7f","strokeWidth":3,"strokeDash":[12,9]},
 "encoding":{"x":{"field":"t","type":"quantitative","scale":{"domain":[0,12000],"range":[1100,2365],"nice":false,"zero":false},"axis":null},"y":{"field":"v","type":"quantitative","scale":{"domain":[-30,30],"range":[2480,1459],"nice":false,"zero":false},"axis":null},"x2":{"field":"t2"},"y2":{"field":"v2"}}},
{"data":{"name":"arrows"},"transform":[{"filter":"datum.id==='c'"}],"mark":{"type":"point","shape":"triangle-down","filled":true,"opacity":1,"color":"#7f7f7f","size":700},
 "encoding":{"x":{"field":"t2","type":"quantitative","scale":{"domain":[0,12000],"range":[1100,2365],"nice":false,"zero":false},"axis":null},"y":{"field":"v2","type":"quantitative","scale":{"domain":[-30,30],"range":[2480,1459],"nice":false,"zero":false},"axis":null},"angle":{"field":"dir","type":"quantitative","scale":null}}},
{"data":{"name":"notes"},"transform":[{"filter":"datum.id==='c'"}],"mark":{"type":"text","font":"Liberation Serif","fontSize":54,"fontWeight":"bold","color":"#000","baseline":"middle"},
 "encoding":{"x":{"field":"t","type":"quantitative","scale":{"domain":[0,12000],"range":[1100,2365],"nice":false,"zero":false},"axis":null},"y":{"field":"v","type":"quantitative","scale":{"domain":[-30,30],"range":[2480,1459],"nice":false,"zero":false},"axis":null},"text":{"field":"txt"}}},

{"data":{"name":"igrid"},"transform":[{"filter":"datum.id==='c1' && datum.o==='x'"}],"mark":{"type":"rule","color":"#e2e2e2","strokeWidth":1},
 "encoding":{"x":{"field":"val","type":"quantitative","scale":{"domain":[0,900],"range":[1251,1647],"nice":false,"zero":false},"axis":null},"y":{"datum":-2.5,"type":"quantitative","scale":{"domain":[-2.5,2],"range":[1797,1486],"nice":false,"zero":false},"axis":null},"y2":{"datum":2}}},
{"data":{"name":"igrid"},"transform":[{"filter":"datum.id==='c1' && datum.o==='y'"}],"mark":{"type":"rule","color":"#e2e2e2","strokeWidth":1},
 "encoding":{"y":{"field":"val","type":"quantitative","scale":{"domain":[-2.5,2],"range":[1797,1486],"nice":false,"zero":false},"axis":null},"x":{"datum":0,"type":"quantitative","scale":{"domain":[0,900],"range":[1251,1647],"nice":false,"zero":false},"axis":null},"x2":{"datum":900}}},
{"data":{"name":"frames"},"transform":[{"filter":"datum.id==='c1'"}],"mark":{"type":"rect","fill":"transparent","stroke":"#a0a0a0","strokeWidth":1.5},
 "encoding":{"x":{"field":"x0","type":"quantitative","scale":{"domain":[0,900],"range":[1251,1647],"nice":false,"zero":false},
   "axis":{"orient":"bottom","offset":-973,"values":[0,100,200,300,400,500,600,700,800,900],"format":"d","title":"Time(s)","domainColor":"#8a8a8a","tickColor":"#8a8a8a","tickSize":3,"labelFont":"Liberation Serif","labelFontSize":17,"labelColor":"#333","labelPadding":3,"titleFont":"Liberation Serif","titleFontSize":17,"titleColor":"#333","titlePadding":2}},
  "x2":{"field":"x1"},
  "y":{"field":"y0","type":"quantitative","scale":{"domain":[-2.5,2],"range":[1797,1486],"nice":false,"zero":false},
   "axis":{"orient":"left","offset":-1251,"values":[-2.5,-2,-1.5,-1,-0.5,0,0.5,1,1.5,2],"format":"~g","title":"Temperature(°C)","domainColor":"#8a8a8a","tickColor":"#8a8a8a","tickSize":3,"labelFont":"Liberation Serif","labelFontSize":17,"labelColor":"#333","labelPadding":3,"titleFont":"Liberation Serif","titleFontSize":17,"titleColor":"#333","titlePadding":3}},
  "y2":{"field":"y1"}}},
{"data":{"name":"ins"},"transform":[{"filter":"datum.id==='c1'"}],"mark":{"type":"line","color":"#2f34e0","strokeWidth":6,"opacity":0.85},
 "encoding":{"x":{"field":"t","type":"quantitative","scale":{"domain":[0,900],"range":[1251,1647],"nice":false,"zero":false},"axis":null},"y":{"field":"v","type":"quantitative","scale":{"domain":[-2.5,2],"range":[1797,1486],"nice":false,"zero":false},"axis":null}}},
{"data":{"name":"ins"},"transform":[{"filter":"datum.id==='c1'"}],"mark":{"type":"point","filled":false,"color":"#5565f2","size":70,"strokeWidth":1.2,"opacity":0.9},
 "encoding":{"x":{"field":"t","type":"quantitative","scale":{"domain":[0,900],"range":[1251,1647],"nice":false,"zero":false},"axis":null},"y":{"field":"v","type":"quantitative","scale":{"domain":[-2.5,2],"range":[1797,1486],"nice":false,"zero":false},"axis":null}}},
{"data":{"name":"red"},"transform":[{"filter":"datum.id==='c1'"}],"mark":{"type":"line","color":"#e0201e","strokeWidth":6,"opacity":1},
 "encoding":{"x":{"field":"t","type":"quantitative","scale":{"domain":[0,900],"range":[1251,1647],"nice":false,"zero":false},"axis":null},"y":{"field":"v","type":"quantitative","scale":{"domain":[-2.5,2],"range":[1797,1486],"nice":false,"zero":false},"axis":null}}},
{"data":{"name":"notes"},"transform":[{"filter":"datum.id==='c1'"}],"mark":{"type":"text","font":"Liberation Serif","fontSize":28,"color":"#1b72c8","baseline":"alphabetic"},
 "encoding":{"x":{"field":"t","type":"quantitative","scale":{"domain":[0,900],"range":[1251,1647],"nice":false,"zero":false},"axis":null},"y":{"field":"v","type":"quantitative","scale":{"domain":[-2.5,2],"range":[1797,1486],"nice":false,"zero":false},"axis":null},"text":{"field":"txt"}}},

{"data":{"name":"igrid"},"transform":[{"filter":"datum.id==='c2' && datum.o==='x'"}],"mark":{"type":"rule","color":"#e2e2e2","strokeWidth":1},
 "encoding":{"x":{"field":"val","type":"quantitative","scale":{"domain":[0,1400],"range":[1604,1985],"nice":false,"zero":false},"axis":null},"y":{"datum":-2.5,"type":"quantitative","scale":{"domain":[-2.5,1.5],"range":[2404,2104],"nice":false,"zero":false},"axis":null},"y2":{"datum":1.5}}},
{"data":{"name":"igrid"},"transform":[{"filter":"datum.id==='c2' && datum.o==='y'"}],"mark":{"type":"rule","color":"#e2e2e2","strokeWidth":1},
 "encoding":{"y":{"field":"val","type":"quantitative","scale":{"domain":[-2.5,1.5],"range":[2404,2104],"nice":false,"zero":false},"axis":null},"x":{"datum":0,"type":"quantitative","scale":{"domain":[0,1400],"range":[1604,1985],"nice":false,"zero":false},"axis":null},"x2":{"datum":1400}}},
{"data":{"name":"frames"},"transform":[{"filter":"datum.id==='c2'"}],"mark":{"type":"rect","fill":"transparent","stroke":"#a0a0a0","strokeWidth":1.5},
 "encoding":{"x":{"field":"x0","type":"quantitative","scale":{"domain":[0,1400],"range":[1604,1985],"nice":false,"zero":false},
   "axis":{"orient":"bottom","offset":-366,"values":[0,200,400,600,800,1000,1200,1400],"format":"d","title":"Time(s)","domainColor":"#8a8a8a","tickColor":"#8a8a8a","tickSize":3,"labelFont":"Liberation Serif","labelFontSize":17,"labelColor":"#333","labelPadding":3,"titleFont":"Liberation Serif","titleFontSize":17,"titleColor":"#333","titlePadding":2}},
  "x2":{"field":"x1"},
  "y":{"field":"y0","type":"quantitative","scale":{"domain":[-2.5,1.5],"range":[2404,2104],"nice":false,"zero":false},
   "axis":{"orient":"left","offset":-1604,"values":[-2.5,-2,-1.5,-1,-0.5,0,0.5,1,1.5],"format":"~g","title":"Temperature(°C)","domainColor":"#8a8a8a","tickColor":"#8a8a8a","tickSize":3,"labelFont":"Liberation Serif","labelFontSize":17,"labelColor":"#333","labelPadding":3,"titleFont":"Liberation Serif","titleFontSize":17,"titleColor":"#333","titlePadding":3}},
  "y2":{"field":"y1"}}},
{"data":{"name":"ins"},"transform":[{"filter":"datum.id==='c2'"}],"mark":{"type":"line","color":"#2f34e0","strokeWidth":6,"opacity":0.85},
 "encoding":{"x":{"field":"t","type":"quantitative","scale":{"domain":[0,1400],"range":[1604,1985],"nice":false,"zero":false},"axis":null},"y":{"field":"v","type":"quantitative","scale":{"domain":[-2.5,1.5],"range":[2404,2104],"nice":false,"zero":false},"axis":null}}},
{"data":{"name":"ins"},"transform":[{"filter":"datum.id==='c2'"}],"mark":{"type":"point","filled":false,"color":"#5565f2","size":70,"strokeWidth":1.2,"opacity":0.9},
 "encoding":{"x":{"field":"t","type":"quantitative","scale":{"domain":[0,1400],"range":[1604,1985],"nice":false,"zero":false},"axis":null},"y":{"field":"v","type":"quantitative","scale":{"domain":[-2.5,1.5],"range":[2404,2104],"nice":false,"zero":false},"axis":null}}},
{"data":{"name":"red"},"transform":[{"filter":"datum.id==='c2'"}],"mark":{"type":"point","filled":true,"color":"#e0201e","size":30,"opacity":1},
 "encoding":{"x":{"field":"t","type":"quantitative","scale":{"domain":[0,1400],"range":[1604,1985],"nice":false,"zero":false},"axis":null},"y":{"field":"v","type":"quantitative","scale":{"domain":[-2.5,1.5],"range":[2404,2104],"nice":false,"zero":false},"axis":null}}},
{"data":{"name":"notes"},"transform":[{"filter":"datum.id==='c2'"}],"mark":{"type":"text","font":"Liberation Serif","fontSize":28,"color":"#1b72c8","baseline":"alphabetic"},
 "encoding":{"x":{"field":"t","type":"quantitative","scale":{"domain":[0,1400],"range":[1604,1985],"nice":false,"zero":false},"axis":null},"y":{"field":"v","type":"quantitative","scale":{"domain":[-2.5,1.5],"range":[2404,2104],"nice":false,"zero":false},"axis":null},"text":{"field":"txt"}}}
]
}
